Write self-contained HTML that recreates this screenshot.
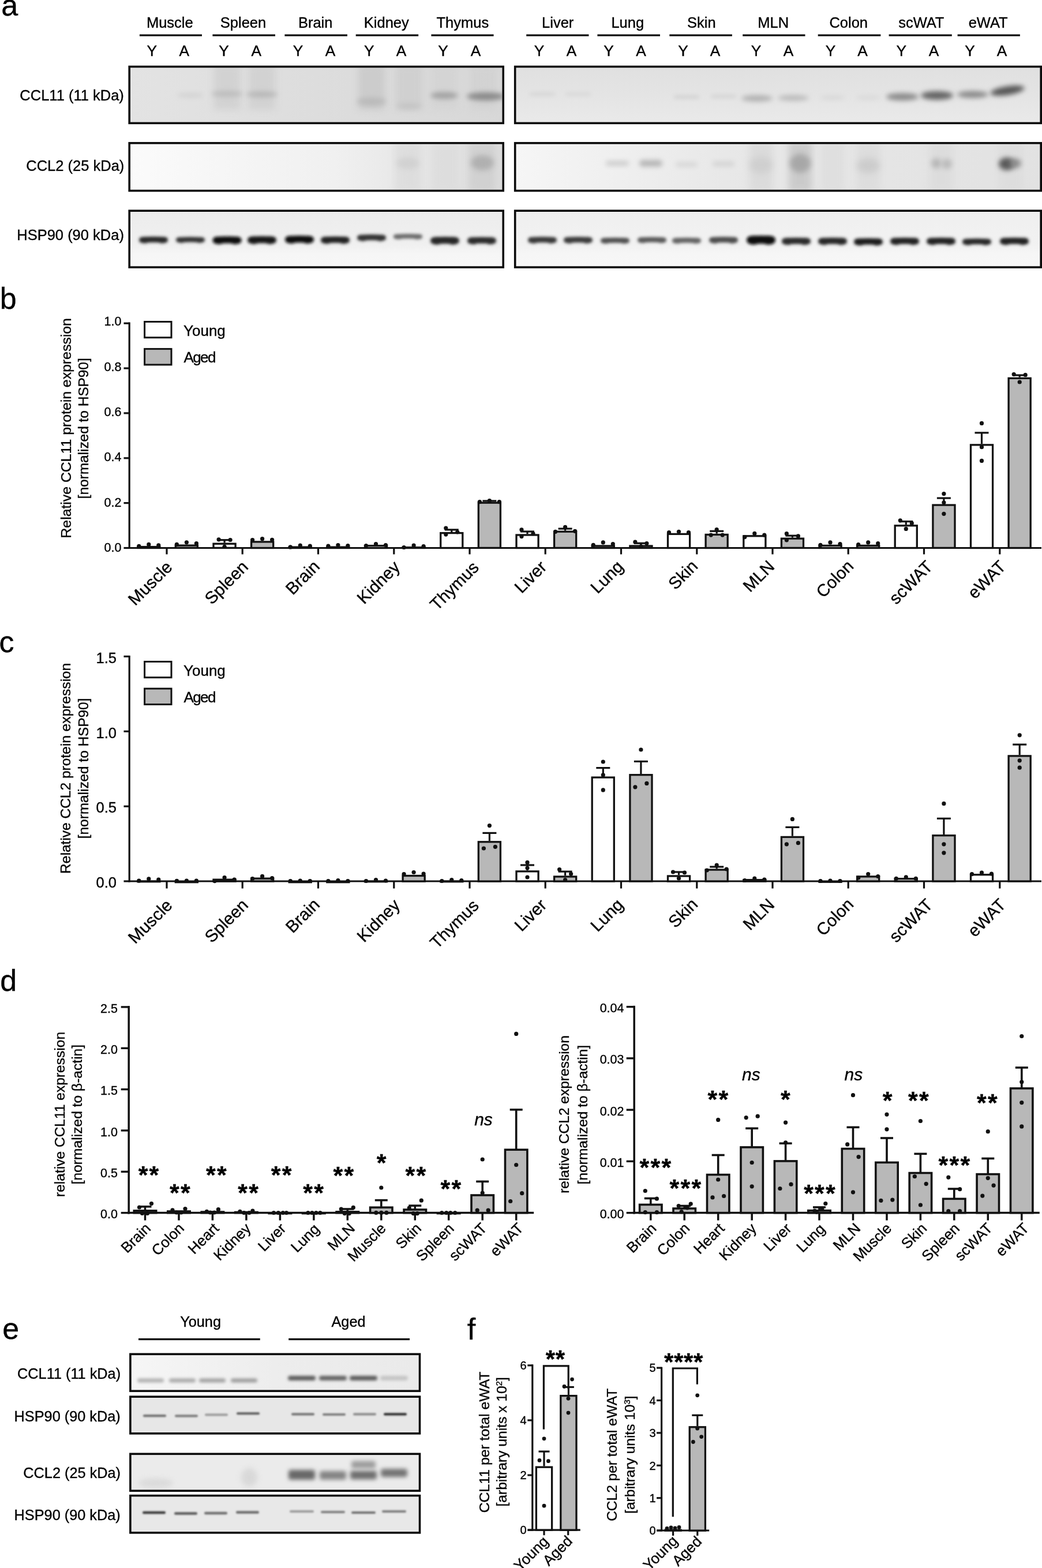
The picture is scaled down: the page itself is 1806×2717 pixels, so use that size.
<!DOCTYPE html>
<html><head><meta charset="utf-8"><title>Figure</title>
<style>html,body{margin:0;padding:0;background:#fff;} svg{display:block;} text{font-family:'Liberation Sans', Arial, Helvetica, sans-serif;stroke:#000;stroke-width:0.35px;}</style>
</head><body>
<svg width="1806" height="2717" viewBox="0 0 1806 2717">
<rect width="1806" height="2717" fill="#fff"/>
<defs>
<filter id="b15" x="-50%" y="-100%" width="200%" height="300%"><feGaussianBlur stdDeviation="1.5"/></filter>
<filter id="b16" x="-50%" y="-100%" width="200%" height="300%"><feGaussianBlur stdDeviation="1.6"/></filter>
<filter id="b25" x="-50%" y="-100%" width="200%" height="300%"><feGaussianBlur stdDeviation="2.5"/></filter>
<filter id="b28" x="-50%" y="-100%" width="200%" height="300%"><feGaussianBlur stdDeviation="2.8"/></filter>
<filter id="b35" x="-50%" y="-100%" width="200%" height="300%"><feGaussianBlur stdDeviation="3.5"/></filter>
<filter id="b36" x="-50%" y="-100%" width="200%" height="300%"><feGaussianBlur stdDeviation="3.6"/></filter>
<filter id="b38" x="-50%" y="-100%" width="200%" height="300%"><feGaussianBlur stdDeviation="3.8"/></filter>
<filter id="b40" x="-50%" y="-100%" width="200%" height="300%"><feGaussianBlur stdDeviation="4"/></filter>
<filter id="b50" x="-50%" y="-100%" width="200%" height="300%"><feGaussianBlur stdDeviation="5"/></filter>
<filter id="b60" x="-50%" y="-100%" width="200%" height="300%"><feGaussianBlur stdDeviation="6"/></filter>
<linearGradient id="gA2" x1="0" x2="1" y1="0" y2="0"><stop offset="0" stop-color="#fbfbfb"/><stop offset="0.55" stop-color="#f0f0f0"/><stop offset="1" stop-color="#dcdcdc"/></linearGradient>
<linearGradient id="gA5" x1="0" x2="1" y1="0" y2="0"><stop offset="0" stop-color="#f6f6f6"/><stop offset="0.4" stop-color="#e8e8e8"/><stop offset="1" stop-color="#e2e2e2"/></linearGradient>
<linearGradient id="gE1" x1="0" x2="1" y1="0" y2="0"><stop offset="0" stop-color="#f6f6f6"/><stop offset="0.5" stop-color="#ededed"/><stop offset="1" stop-color="#eaeaea"/></linearGradient>
<linearGradient id="gA1" x1="0" x2="1" y1="0" y2="0"><stop offset="0" stop-color="#e3e3e3"/><stop offset="0.5" stop-color="#dddddd"/><stop offset="1" stop-color="#d8d8d8"/></linearGradient>
<linearGradient id="gA3" x1="0" x2="0" y1="0" y2="1"><stop offset="0" stop-color="#ececec"/><stop offset="0.6" stop-color="#f0f0f0"/><stop offset="0.75" stop-color="#f6f6f6"/><stop offset="1" stop-color="#f7f7f7"/></linearGradient>
<linearGradient id="gA4" x1="0" x2="0" y1="0" y2="1"><stop offset="0" stop-color="#e0e0e0"/><stop offset="0.5" stop-color="#e4e4e4"/><stop offset="1" stop-color="#eaeaea"/></linearGradient>
<linearGradient id="gA6" x1="0" x2="0" y1="0" y2="1"><stop offset="0" stop-color="#efefef"/><stop offset="0.6" stop-color="#f2f2f2"/><stop offset="0.75" stop-color="#f6f6f6"/><stop offset="1" stop-color="#f7f7f7"/></linearGradient>
</defs>
<text x="16.8" y="27.4" font-size="52" text-anchor="middle" fill="#000">a</text>
<text x="14.3" y="535.2" font-size="52" text-anchor="middle" fill="#000">b</text>
<text x="11.5" y="1129.9" font-size="52" text-anchor="middle" fill="#000">c</text>
<text x="14.7" y="1716.8" font-size="52" text-anchor="middle" fill="#000">d</text>
<text x="18.6" y="2319.9" font-size="52" text-anchor="middle" fill="#000">e</text>
<text x="817.0" y="2320.5" font-size="52" text-anchor="middle" fill="#000">f</text>
<text x="294.3" y="48.3" font-size="25.5" text-anchor="middle" fill="#000">Muscle</text>
<line x1="241.9" y1="61.2" x2="350.0" y2="61.2" stroke="#111" stroke-width="3.3" stroke-linecap="butt"/>
<text x="263.3" y="97.0" font-size="26.3" text-anchor="middle" fill="#000">Y</text>
<text x="319.3" y="97.0" font-size="26.3" text-anchor="middle" fill="#000">A</text>
<text x="421.5" y="48.3" font-size="25.5" text-anchor="middle" fill="#000">Spleen</text>
<line x1="368.4" y1="61.2" x2="477.0" y2="61.2" stroke="#111" stroke-width="3.3" stroke-linecap="butt"/>
<text x="387.9" y="97.0" font-size="26.3" text-anchor="middle" fill="#000">Y</text>
<text x="444.2" y="97.0" font-size="26.3" text-anchor="middle" fill="#000">A</text>
<text x="546.7" y="48.3" font-size="25.5" text-anchor="middle" fill="#000">Brain</text>
<line x1="493.4" y1="61.2" x2="602.0" y2="61.2" stroke="#111" stroke-width="3.3" stroke-linecap="butt"/>
<text x="516.5" y="97.0" font-size="26.3" text-anchor="middle" fill="#000">Y</text>
<text x="572.5" y="97.0" font-size="26.3" text-anchor="middle" fill="#000">A</text>
<text x="669.8" y="48.3" font-size="25.5" text-anchor="middle" fill="#000">Kidney</text>
<line x1="616.7" y1="61.2" x2="725.2" y2="61.2" stroke="#111" stroke-width="3.3" stroke-linecap="butt"/>
<text x="639.7" y="97.0" font-size="26.3" text-anchor="middle" fill="#000">Y</text>
<text x="695.6" y="97.0" font-size="26.3" text-anchor="middle" fill="#000">A</text>
<text x="801.9" y="48.3" font-size="25.5" text-anchor="middle" fill="#000">Thymus</text>
<line x1="747.4" y1="61.2" x2="855.6" y2="61.2" stroke="#111" stroke-width="3.3" stroke-linecap="butt"/>
<text x="768.0" y="97.0" font-size="26.3" text-anchor="middle" fill="#000">Y</text>
<text x="824.4" y="97.0" font-size="26.3" text-anchor="middle" fill="#000">A</text>
<text x="966.7" y="48.3" font-size="25.5" text-anchor="middle" fill="#000">Liver</text>
<line x1="912.2" y1="61.2" x2="1020.5" y2="61.2" stroke="#111" stroke-width="3.3" stroke-linecap="butt"/>
<text x="934.5" y="97.0" font-size="26.3" text-anchor="middle" fill="#000">Y</text>
<text x="990.4" y="97.0" font-size="26.3" text-anchor="middle" fill="#000">A</text>
<text x="1087.8" y="48.3" font-size="25.5" text-anchor="middle" fill="#000">Lung</text>
<line x1="1035.4" y1="61.2" x2="1144.0" y2="61.2" stroke="#111" stroke-width="3.3" stroke-linecap="butt"/>
<text x="1055.0" y="97.0" font-size="26.3" text-anchor="middle" fill="#000">Y</text>
<text x="1111.0" y="97.0" font-size="26.3" text-anchor="middle" fill="#000">A</text>
<text x="1215.8" y="48.3" font-size="25.5" text-anchor="middle" fill="#000">Skin</text>
<line x1="1160.3" y1="61.2" x2="1268.9" y2="61.2" stroke="#111" stroke-width="3.3" stroke-linecap="butt"/>
<text x="1183.9" y="97.0" font-size="26.3" text-anchor="middle" fill="#000">Y</text>
<text x="1239.6" y="97.0" font-size="26.3" text-anchor="middle" fill="#000">A</text>
<text x="1340.2" y="48.3" font-size="25.5" text-anchor="middle" fill="#000">MLN</text>
<line x1="1287.2" y1="61.2" x2="1395.5" y2="61.2" stroke="#111" stroke-width="3.3" stroke-linecap="butt"/>
<text x="1310.5" y="97.0" font-size="26.3" text-anchor="middle" fill="#000">Y</text>
<text x="1366.6" y="97.0" font-size="26.3" text-anchor="middle" fill="#000">A</text>
<text x="1470.7" y="48.3" font-size="25.5" text-anchor="middle" fill="#000">Colon</text>
<line x1="1417.7" y1="61.2" x2="1526.4" y2="61.2" stroke="#111" stroke-width="3.3" stroke-linecap="butt"/>
<text x="1439.5" y="97.0" font-size="26.3" text-anchor="middle" fill="#000">Y</text>
<text x="1494.9" y="97.0" font-size="26.3" text-anchor="middle" fill="#000">A</text>
<text x="1596.8" y="48.3" font-size="25.5" text-anchor="middle" fill="#000">scWAT</text>
<line x1="1540.6" y1="61.2" x2="1649.8" y2="61.2" stroke="#111" stroke-width="3.3" stroke-linecap="butt"/>
<text x="1562.2" y="97.0" font-size="26.3" text-anchor="middle" fill="#000">Y</text>
<text x="1618.5" y="97.0" font-size="26.3" text-anchor="middle" fill="#000">A</text>
<text x="1712.7" y="48.3" font-size="25.5" text-anchor="middle" fill="#000">eWAT</text>
<line x1="1659.6" y1="61.2" x2="1767.9" y2="61.2" stroke="#111" stroke-width="3.3" stroke-linecap="butt"/>
<text x="1680.9" y="97.0" font-size="26.3" text-anchor="middle" fill="#000">Y</text>
<text x="1736.5" y="97.0" font-size="26.3" text-anchor="middle" fill="#000">A</text>
<text x="124.6" y="173.6" font-size="25.5" text-anchor="middle" fill="#000">CCL11 (11 kDa)</text>
<text x="130.3" y="296.4" font-size="25.5" text-anchor="middle" fill="#000">CCL2 (25 kDa)</text>
<text x="122.1" y="415.6" font-size="25.5" text-anchor="middle" fill="#000">HSP90 (90 kDa)</text>
<clipPath id="cA1"><rect x="226.0" y="117.3" width="644.4" height="94.3"/></clipPath>
<g clip-path="url(#cA1)">
<rect x="222.4" y="113.7" width="651.6" height="101.5" fill="#e2e2e2"/>
<rect x="222" y="113" width="652" height="103" fill="url(#gA1)"/>
<rect x="370.6" y="112.0" width="46.0" height="78.0" fill="#cfcfcf" opacity="0.8" filter="url(#b60)"/>
<rect x="431.0" y="112.0" width="46.0" height="78.0" fill="#cfcfcf" opacity="0.8" filter="url(#b60)"/>
<rect x="621.0" y="112.0" width="46.0" height="78.0" fill="#c8c8c8" opacity="0.8" filter="url(#b60)"/>
<rect x="686.0" y="112.0" width="46.0" height="78.0" fill="#cdcdcd" opacity="0.8" filter="url(#b60)"/>
<rect x="747.0" y="112.0" width="46.0" height="78.0" fill="#d2d2d2" opacity="0.7" filter="url(#b60)"/>
<rect x="815.0" y="112.0" width="46.0" height="78.0" fill="#d0d0d0" opacity="0.7" filter="url(#b60)"/>
<ellipse cx="330.0" cy="165.0" rx="24.0" ry="3.5" fill="#d0d0d0" opacity="1.0" filter="url(#b40)"/>
<ellipse cx="393.6" cy="162.5" rx="27.0" ry="5.0" fill="#bcbcbc" opacity="1.0" filter="url(#b40)"/>
<ellipse cx="454.0" cy="163.5" rx="27.0" ry="5.0" fill="#b6b6b6" opacity="1.0" filter="url(#b40)"/>
<ellipse cx="644.0" cy="176.0" rx="25.0" ry="7.0" fill="#bababa" opacity="1.0" filter="url(#b50)"/>
<ellipse cx="709.0" cy="184.0" rx="22.0" ry="5.0" fill="#c2c2c2" opacity="1.0" filter="url(#b50)"/>
<ellipse cx="770.0" cy="165.4" rx="24.0" ry="6.0" fill="#a2a2a2" opacity="1.0" filter="url(#b40)"/>
<ellipse cx="842.0" cy="167.0" rx="33.0" ry="7.0" fill="#8a8a8a" opacity="1.0" filter="url(#b40)"/>
</g>
<rect x="224.2" y="115.5" width="648.0" height="97.9" fill="none" stroke="#0a0a0a" stroke-width="3.6"/>
<clipPath id="cA2"><rect x="226.0" y="249.7" width="644.4" height="79.0"/></clipPath>
<g clip-path="url(#cA2)">
<rect x="222.4" y="246.1" width="651.6" height="86.2" fill="#f4f4f4"/>
<rect x="222" y="246" width="652" height="87" fill="url(#gA2)"/>
<rect x="684.0" y="246.0" width="46.0" height="86.0" fill="#d8d8d8" opacity="0.6" filter="url(#b60)"/>
<rect x="748.0" y="246.0" width="46.0" height="86.0" fill="#d8d8d8" opacity="0.5" filter="url(#b60)"/>
<rect x="812.0" y="246.0" width="46.0" height="86.0" fill="#c8c8c8" opacity="0.6" filter="url(#b60)"/>
<ellipse cx="707.0" cy="283.0" rx="20.0" ry="10.0" fill="#cfcfcf" opacity="0.8" filter="url(#b50)"/>
<ellipse cx="836.0" cy="282.0" rx="20.0" ry="13.0" fill="#a8a8a8" opacity="0.8" filter="url(#b50)"/>
</g>
<rect x="224.2" y="247.9" width="648.0" height="82.6" fill="none" stroke="#0a0a0a" stroke-width="3.6"/>
<clipPath id="cA3"><rect x="226.0" y="367.0" width="644.4" height="94.3"/></clipPath>
<g clip-path="url(#cA3)">
<rect x="222.4" y="363.4" width="651.6" height="101.5" fill="#f1f1f1"/>
<rect x="222" y="363" width="652" height="102" fill="url(#gA3)"/>
<g filter="url(#b28)" opacity="1.0"><path d="M246.0,415.7 Q266.0,414.1 286.0,415.7" stroke="#262626" stroke-width="10.0" stroke-linecap="round" fill="none"/><ellipse cx="251.0" cy="416.0" rx="8.0" ry="5.6" fill="#262626"/><ellipse cx="281.0" cy="416.0" rx="8.0" ry="5.6" fill="#262626"/></g>
<g filter="url(#b28)" opacity="1.0"><path d="M309.5,415.7 Q330.0,414.1 350.5,415.7" stroke="#333333" stroke-width="9.0" stroke-linecap="round" fill="none"/><ellipse cx="314.5" cy="416.0" rx="7.2" ry="5.0" fill="#333333"/><ellipse cx="345.5" cy="416.0" rx="7.2" ry="5.0" fill="#333333"/></g>
<g filter="url(#b28)" opacity="1.0"><path d="M374.6,416.3 Q393.6,414.7 412.6,416.3" stroke="#101010" stroke-width="12.0" stroke-linecap="round" fill="none"/><ellipse cx="379.6" cy="416.6" rx="9.6" ry="6.7" fill="#101010"/><ellipse cx="407.6" cy="416.6" rx="9.6" ry="6.7" fill="#101010"/></g>
<g filter="url(#b28)" opacity="1.0"><path d="M435.0,416.0 Q454.0,414.4 473.0,416.0" stroke="#141414" stroke-width="12.0" stroke-linecap="round" fill="none"/><ellipse cx="440.0" cy="416.3" rx="9.6" ry="6.7" fill="#141414"/><ellipse cx="468.0" cy="416.3" rx="9.6" ry="6.7" fill="#141414"/></g>
<g filter="url(#b28)" opacity="1.0"><path d="M500.0,415.1 Q519.0,413.5 538.0,415.1" stroke="#111111" stroke-width="12.0" stroke-linecap="round" fill="none"/><ellipse cx="505.0" cy="415.4" rx="9.6" ry="6.7" fill="#111111"/><ellipse cx="533.0" cy="415.4" rx="9.6" ry="6.7" fill="#111111"/></g>
<g filter="url(#b28)" opacity="1.0"><path d="M561.5,416.0 Q581.0,414.4 600.5,416.0" stroke="#222222" stroke-width="11.0" stroke-linecap="round" fill="none"/><ellipse cx="566.5" cy="416.3" rx="8.8" ry="6.2" fill="#222222"/><ellipse cx="595.5" cy="416.3" rx="8.8" ry="6.2" fill="#222222"/></g>
<g filter="url(#b28)" opacity="1.0"><path d="M624.0,412.0 Q644.0,410.4 664.0,412.0" stroke="#333333" stroke-width="10.0" stroke-linecap="round" fill="none"/><ellipse cx="629.0" cy="412.3" rx="8.0" ry="5.6" fill="#333333"/><ellipse cx="659.0" cy="412.3" rx="8.0" ry="5.6" fill="#333333"/></g>
<g filter="url(#b28)" opacity="1.0"><path d="M686.0,410.0 Q707.0,408.4 728.0,410.0" stroke="#6a6a6a" stroke-width="8.0" stroke-linecap="round" fill="none"/><ellipse cx="691.0" cy="410.3" rx="6.4" ry="4.5" fill="#6a6a6a"/><ellipse cx="723.0" cy="410.3" rx="6.4" ry="4.5" fill="#6a6a6a"/></g>
<g filter="url(#b28)" opacity="1.0"><path d="M752.0,417.0 Q771.0,415.4 790.0,417.0" stroke="#262626" stroke-width="12.0" stroke-linecap="round" fill="none"/><ellipse cx="757.0" cy="417.3" rx="9.6" ry="6.7" fill="#262626"/><ellipse cx="785.0" cy="417.3" rx="9.6" ry="6.7" fill="#262626"/></g>
<g filter="url(#b28)" opacity="1.0"><path d="M815.5,417.0 Q835.0,415.4 854.5,417.0" stroke="#2c2c2c" stroke-width="11.0" stroke-linecap="round" fill="none"/><ellipse cx="820.5" cy="417.3" rx="8.8" ry="6.2" fill="#2c2c2c"/><ellipse cx="849.5" cy="417.3" rx="8.8" ry="6.2" fill="#2c2c2c"/></g>
</g>
<rect x="224.2" y="365.2" width="648.0" height="97.9" fill="none" stroke="#0a0a0a" stroke-width="3.6"/>
<clipPath id="cA4"><rect x="894.5" y="117.3" width="907.9" height="94.3"/></clipPath>
<g clip-path="url(#cA4)">
<rect x="890.9" y="113.7" width="915.1" height="101.5" fill="#e7e7e7"/>
<rect x="890" y="113" width="916" height="103" fill="url(#gA4)"/>
<rect x="918.0" y="160.0" width="44.0" height="6.0" rx="3.0" fill="#d6d6d6" opacity="1.0" filter="url(#b35)"/>
<rect x="980.0" y="160.0" width="44.0" height="6.0" rx="3.0" fill="#d8d8d8" opacity="1.0" filter="url(#b35)"/>
<rect x="1168.0" y="165.0" width="44.0" height="6.0" rx="3.0" fill="#d2d2d2" opacity="1.0" filter="url(#b35)"/>
<rect x="1232.0" y="164.0" width="44.0" height="6.0" rx="3.0" fill="#d4d4d4" opacity="1.0" filter="url(#b35)"/>
<ellipse cx="1312.0" cy="170.4" rx="27.0" ry="5.5" fill="#b0b0b0" opacity="1.0" filter="url(#b40)"/>
<ellipse cx="1375.0" cy="169.7" rx="27.0" ry="5.0" fill="#bababa" opacity="1.0" filter="url(#b40)"/>
<ellipse cx="1443.0" cy="169.0" rx="22.0" ry="3.5" fill="#d6d6d6" opacity="1.0" filter="url(#b40)"/>
<ellipse cx="1505.0" cy="169.0" rx="22.0" ry="3.5" fill="#d8d8d8" opacity="1.0" filter="url(#b40)"/>
<ellipse cx="1564.0" cy="167.7" rx="28.0" ry="6.5" fill="#8a8a8a" opacity="1.0" filter="url(#b40)"/>
<ellipse cx="1624.0" cy="165.4" rx="28.0" ry="7.5" fill="#646464" opacity="1.0" filter="url(#b40)"/>
<ellipse cx="1686.0" cy="163.7" rx="27.0" ry="6.0" fill="#888888" opacity="1.0" filter="url(#b40)"/>
<g transform="rotate(-9 1746 157)"><ellipse cx="1746.0" cy="157.0" rx="30.0" ry="7.5" fill="#555555" opacity="1.0" filter="url(#b40)"/></g>
</g>
<rect x="892.7" y="115.5" width="911.5" height="97.9" fill="none" stroke="#0a0a0a" stroke-width="3.6"/>
<clipPath id="cA5"><rect x="894.5" y="249.7" width="907.9" height="79.0"/></clipPath>
<g clip-path="url(#cA5)">
<rect x="890.9" y="246.1" width="915.1" height="86.2" fill="#ececec"/>
<rect x="890" y="246" width="916" height="87" fill="url(#gA5)"/>
<rect x="1299.0" y="246.0" width="40.0" height="86.0" fill="#d6d6d6" opacity="0.7" filter="url(#b60)"/>
<rect x="1367.0" y="246.0" width="40.0" height="86.0" fill="#c4c4c4" opacity="0.8" filter="url(#b60)"/>
<rect x="1423.0" y="246.0" width="40.0" height="86.0" fill="#dadada" opacity="0.6" filter="url(#b60)"/>
<rect x="1485.0" y="246.0" width="40.0" height="86.0" fill="#d8d8d8" opacity="0.6" filter="url(#b60)"/>
<rect x="1611.0" y="246.0" width="40.0" height="86.0" fill="#d8d8d8" opacity="0.6" filter="url(#b60)"/>
<rect x="1732.0" y="246.0" width="40.0" height="86.0" fill="#d8d8d8" opacity="0.5" filter="url(#b60)"/>
<rect x="1050.0" y="279.0" width="40.0" height="8.0" rx="4.0" fill="#cacaca" opacity="1.0" filter="url(#b40)"/>
<rect x="1108.0" y="277.5" width="40.0" height="11.0" rx="5.5" fill="#b4b4b4" opacity="1.0" filter="url(#b40)"/>
<rect x="1171.0" y="281.0" width="38.0" height="8.0" rx="4.0" fill="#d6d6d6" opacity="1.0" filter="url(#b40)"/>
<rect x="1235.0" y="280.0" width="38.0" height="8.0" rx="4.0" fill="#d2d2d2" opacity="1.0" filter="url(#b40)"/>
<ellipse cx="1387.0" cy="283.0" rx="18.0" ry="16.0" fill="#a4a4a4" opacity="0.9" filter="url(#b50)"/>
<ellipse cx="1319.0" cy="286.0" rx="20.0" ry="14.0" fill="#cccccc" opacity="0.8" filter="url(#b60)"/>
<ellipse cx="1505.0" cy="287.0" rx="20.0" ry="13.0" fill="#c8c8c8" opacity="0.8" filter="url(#b60)"/>
<ellipse cx="1623.0" cy="283.0" rx="9.0" ry="9.0" fill="#b4b4b4" opacity="0.9" filter="url(#b40)"/>
<ellipse cx="1641.0" cy="284.0" rx="9.0" ry="9.0" fill="#b8b8b8" opacity="0.9" filter="url(#b40)"/>
<ellipse cx="1745.0" cy="284.0" rx="14.0" ry="11.0" fill="#5a5a5a" opacity="1" filter="url(#b40)"/>
<ellipse cx="1760.0" cy="283.0" rx="10.0" ry="8.0" fill="#888888" opacity="0.9" filter="url(#b40)"/>
</g>
<rect x="892.7" y="247.9" width="911.5" height="82.6" fill="none" stroke="#0a0a0a" stroke-width="3.6"/>
<clipPath id="cA6"><rect x="894.5" y="367.0" width="907.9" height="94.3"/></clipPath>
<g clip-path="url(#cA6)">
<rect x="890.9" y="363.4" width="915.1" height="101.5" fill="#f3f3f3"/>
<rect x="890" y="363" width="916" height="102" fill="url(#gA6)"/>
<g filter="url(#b28)" opacity="1.0"><path d="M920.0,416.0 Q940.0,414.4 960.0,416.0" stroke="#383838" stroke-width="10.0" stroke-linecap="round" fill="none"/><ellipse cx="925.0" cy="416.3" rx="8.0" ry="5.6" fill="#383838"/><ellipse cx="955.0" cy="416.3" rx="8.0" ry="5.6" fill="#383838"/></g>
<g filter="url(#b28)" opacity="1.0"><path d="M982.0,416.0 Q1002.0,414.4 1022.0,416.0" stroke="#3a3a3a" stroke-width="10.0" stroke-linecap="round" fill="none"/><ellipse cx="987.0" cy="416.3" rx="8.0" ry="5.6" fill="#3a3a3a"/><ellipse cx="1017.0" cy="416.3" rx="8.0" ry="5.6" fill="#3a3a3a"/></g>
<g filter="url(#b28)" opacity="1.0"><path d="M1045.5,417.0 Q1066.0,415.4 1086.5,417.0" stroke="#505050" stroke-width="9.0" stroke-linecap="round" fill="none"/><ellipse cx="1050.5" cy="417.3" rx="7.2" ry="5.0" fill="#505050"/><ellipse cx="1081.5" cy="417.3" rx="7.2" ry="5.0" fill="#505050"/></g>
<g filter="url(#b28)" opacity="1.0"><path d="M1109.5,416.0 Q1130.0,414.4 1150.5,416.0" stroke="#585858" stroke-width="9.0" stroke-linecap="round" fill="none"/><ellipse cx="1114.5" cy="416.3" rx="7.2" ry="5.0" fill="#585858"/><ellipse cx="1145.5" cy="416.3" rx="7.2" ry="5.0" fill="#585858"/></g>
<g filter="url(#b28)" opacity="1.0"><path d="M1169.5,417.0 Q1190.0,415.4 1210.5,417.0" stroke="#646464" stroke-width="9.0" stroke-linecap="round" fill="none"/><ellipse cx="1174.5" cy="417.3" rx="7.2" ry="5.0" fill="#646464"/><ellipse cx="1205.5" cy="417.3" rx="7.2" ry="5.0" fill="#646464"/></g>
<g filter="url(#b28)" opacity="1.0"><path d="M1234.0,416.0 Q1254.0,414.4 1274.0,416.0" stroke="#4e4e4e" stroke-width="10.0" stroke-linecap="round" fill="none"/><ellipse cx="1239.0" cy="416.3" rx="8.0" ry="5.6" fill="#4e4e4e"/><ellipse cx="1269.0" cy="416.3" rx="8.0" ry="5.6" fill="#4e4e4e"/></g>
<g filter="url(#b28)" opacity="1.0"><path d="M1301.0,416.0 Q1319.0,414.4 1337.0,416.0" stroke="#0c0c0c" stroke-width="14.0" stroke-linecap="round" fill="none"/><ellipse cx="1306.0" cy="416.3" rx="11.2" ry="7.8" fill="#0c0c0c"/><ellipse cx="1332.0" cy="416.3" rx="11.2" ry="7.8" fill="#0c0c0c"/></g>
<g filter="url(#b28)" opacity="1.0"><path d="M1360.5,418.0 Q1380.0,416.4 1399.5,418.0" stroke="#2a2a2a" stroke-width="11.0" stroke-linecap="round" fill="none"/><ellipse cx="1365.5" cy="418.3" rx="8.8" ry="6.2" fill="#2a2a2a"/><ellipse cx="1394.5" cy="418.3" rx="8.8" ry="6.2" fill="#2a2a2a"/></g>
<g filter="url(#b28)" opacity="1.0"><path d="M1423.5,418.0 Q1443.0,416.4 1462.5,418.0" stroke="#262626" stroke-width="11.0" stroke-linecap="round" fill="none"/><ellipse cx="1428.5" cy="418.3" rx="8.8" ry="6.2" fill="#262626"/><ellipse cx="1457.5" cy="418.3" rx="8.8" ry="6.2" fill="#262626"/></g>
<g filter="url(#b28)" opacity="1.0"><path d="M1485.5,419.0 Q1505.0,417.4 1524.5,419.0" stroke="#1e1e1e" stroke-width="11.0" stroke-linecap="round" fill="none"/><ellipse cx="1490.5" cy="419.3" rx="8.8" ry="6.2" fill="#1e1e1e"/><ellipse cx="1519.5" cy="419.3" rx="8.8" ry="6.2" fill="#1e1e1e"/></g>
<g filter="url(#b28)" opacity="1.0"><path d="M1548.5,418.0 Q1568.0,416.4 1587.5,418.0" stroke="#202020" stroke-width="11.0" stroke-linecap="round" fill="none"/><ellipse cx="1553.5" cy="418.3" rx="8.8" ry="6.2" fill="#202020"/><ellipse cx="1582.5" cy="418.3" rx="8.8" ry="6.2" fill="#202020"/></g>
<g filter="url(#b28)" opacity="1.0"><path d="M1611.5,418.0 Q1631.0,416.4 1650.5,418.0" stroke="#242424" stroke-width="11.0" stroke-linecap="round" fill="none"/><ellipse cx="1616.5" cy="418.3" rx="8.8" ry="6.2" fill="#242424"/><ellipse cx="1645.5" cy="418.3" rx="8.8" ry="6.2" fill="#242424"/></g>
<g filter="url(#b28)" opacity="1.0"><path d="M1673.0,419.0 Q1693.0,417.4 1713.0,419.0" stroke="#282828" stroke-width="10.0" stroke-linecap="round" fill="none"/><ellipse cx="1678.0" cy="419.3" rx="8.0" ry="5.6" fill="#282828"/><ellipse cx="1708.0" cy="419.3" rx="8.0" ry="5.6" fill="#282828"/></g>
<g filter="url(#b28)" opacity="1.0"><path d="M1738.5,418.0 Q1758.0,416.4 1777.5,418.0" stroke="#202020" stroke-width="11.0" stroke-linecap="round" fill="none"/><ellipse cx="1743.5" cy="418.3" rx="8.8" ry="6.2" fill="#202020"/><ellipse cx="1772.5" cy="418.3" rx="8.8" ry="6.2" fill="#202020"/></g>
</g>
<rect x="892.7" y="365.2" width="911.5" height="97.9" fill="none" stroke="#0a0a0a" stroke-width="3.6"/>
<line x1="224.2" y1="558.6" x2="224.2" y2="951.1" stroke="#111" stroke-width="3.2" stroke-linecap="butt"/>
<line x1="222.6" y1="949.5" x2="1805.0" y2="949.5" stroke="#111" stroke-width="3.2" stroke-linecap="butt"/>
<line x1="214.5" y1="949.5" x2="224.2" y2="949.5" stroke="#111" stroke-width="3.2" stroke-linecap="butt"/>
<text x="210.5" y="956.0" font-size="21.5" text-anchor="end" fill="#000">0.0</text>
<line x1="214.5" y1="871.6" x2="224.2" y2="871.6" stroke="#111" stroke-width="3.2" stroke-linecap="butt"/>
<text x="210.5" y="877.7" font-size="21.5" text-anchor="end" fill="#000">0.2</text>
<line x1="214.5" y1="793.8" x2="224.2" y2="793.8" stroke="#111" stroke-width="3.2" stroke-linecap="butt"/>
<text x="210.5" y="799.3" font-size="21.5" text-anchor="end" fill="#000">0.4</text>
<line x1="214.5" y1="715.9" x2="224.2" y2="715.9" stroke="#111" stroke-width="3.2" stroke-linecap="butt"/>
<text x="210.5" y="720.9" font-size="21.5" text-anchor="end" fill="#000">0.6</text>
<line x1="214.5" y1="638.1" x2="224.2" y2="638.1" stroke="#111" stroke-width="3.2" stroke-linecap="butt"/>
<text x="210.5" y="642.5" font-size="21.5" text-anchor="end" fill="#000">0.8</text>
<line x1="214.5" y1="560.2" x2="224.2" y2="560.2" stroke="#111" stroke-width="3.2" stroke-linecap="butt"/>
<text x="210.5" y="564.1" font-size="21.5" text-anchor="end" fill="#000">1.0</text>
<line x1="289.0" y1="949.5" x2="289.0" y2="960.5" stroke="#111" stroke-width="3.2" stroke-linecap="butt"/>
<line x1="420.2" y1="949.5" x2="420.2" y2="960.5" stroke="#111" stroke-width="3.2" stroke-linecap="butt"/>
<line x1="551.5" y1="949.5" x2="551.5" y2="960.5" stroke="#111" stroke-width="3.2" stroke-linecap="butt"/>
<line x1="682.8" y1="949.5" x2="682.8" y2="960.5" stroke="#111" stroke-width="3.2" stroke-linecap="butt"/>
<line x1="814.0" y1="949.5" x2="814.0" y2="960.5" stroke="#111" stroke-width="3.2" stroke-linecap="butt"/>
<line x1="945.2" y1="949.5" x2="945.2" y2="960.5" stroke="#111" stroke-width="3.2" stroke-linecap="butt"/>
<line x1="1076.5" y1="949.5" x2="1076.5" y2="960.5" stroke="#111" stroke-width="3.2" stroke-linecap="butt"/>
<line x1="1207.8" y1="949.5" x2="1207.8" y2="960.5" stroke="#111" stroke-width="3.2" stroke-linecap="butt"/>
<line x1="1339.0" y1="949.5" x2="1339.0" y2="960.5" stroke="#111" stroke-width="3.2" stroke-linecap="butt"/>
<line x1="1470.2" y1="949.5" x2="1470.2" y2="960.5" stroke="#111" stroke-width="3.2" stroke-linecap="butt"/>
<line x1="1601.5" y1="949.5" x2="1601.5" y2="960.5" stroke="#111" stroke-width="3.2" stroke-linecap="butt"/>
<line x1="1732.8" y1="949.5" x2="1732.8" y2="960.5" stroke="#111" stroke-width="3.2" stroke-linecap="butt"/>
<text x="122.8" y="741.9" font-size="24.8" text-anchor="middle" transform="rotate(-90 122.8 741.9)" fill="#000">Relative CCL11 protein expression</text>
<text x="153.2" y="742.3" font-size="24.4" text-anchor="middle" transform="rotate(-90 153.2 742.3)" fill="#000">[normalized to HSP90]</text>
<rect x="250.6" y="557.5" width="46.4" height="27.4" fill="white" stroke="#111" stroke-width="3.0"/>
<rect x="250.6" y="604.6" width="46.4" height="27.4" fill="#b8b8b8" stroke="#111" stroke-width="3.0"/>
<text x="318.0" y="581.5" font-size="26" text-anchor="start" fill="#000">Young</text>
<text x="318.5" y="628.4" font-size="26" text-anchor="start" fill="#000" letter-spacing="-1.6">Aged</text>
<rect x="238.8" y="947.6" width="38.1" height="1.9" fill="white" stroke="#111" stroke-width="3.3"/>
<circle cx="240.8" cy="946.4" r="3.6" fill="#111"/>
<circle cx="257.8" cy="943.4" r="3.6" fill="#111"/>
<circle cx="274.8" cy="944.8" r="3.6" fill="#111"/>
<rect x="304.3" y="945.1" width="38.1" height="4.3" fill="#b8b8b8" stroke="#111" stroke-width="3.3"/>
<circle cx="306.4" cy="943.4" r="3.6" fill="#111"/>
<circle cx="323.4" cy="939.8" r="3.6" fill="#111"/>
<circle cx="340.4" cy="941.5" r="3.6" fill="#111"/>
<rect x="370.0" y="942.2" width="38.1" height="7.2" fill="white" stroke="#111" stroke-width="3.3"/>
<line x1="389.1" y1="940.6" x2="389.1" y2="935.7" stroke="#111" stroke-width="3.2" stroke-linecap="butt"/>
<line x1="377.1" y1="935.7" x2="401.1" y2="935.7" stroke="#111" stroke-width="3.2" stroke-linecap="butt"/>
<circle cx="379.1" cy="934.8" r="3.6" fill="#111"/>
<circle cx="399.1" cy="935.5" r="3.6" fill="#111"/>
<circle cx="389.1" cy="947.3" r="3.6" fill="#111"/>
<rect x="435.6" y="938.9" width="38.1" height="10.6" fill="#b8b8b8" stroke="#111" stroke-width="3.3"/>
<circle cx="437.6" cy="935.7" r="3.6" fill="#111"/>
<circle cx="454.6" cy="933.7" r="3.6" fill="#111"/>
<circle cx="471.6" cy="935.3" r="3.6" fill="#111"/>
<rect x="501.2" y="948.1" width="38.1" height="1.4" fill="white" stroke="#111" stroke-width="3.3"/>
<circle cx="503.3" cy="947.9" r="3.6" fill="#111"/>
<circle cx="520.3" cy="945.0" r="3.6" fill="#111"/>
<circle cx="537.3" cy="946.0" r="3.6" fill="#111"/>
<rect x="566.8" y="948.1" width="38.1" height="1.4" fill="#b8b8b8" stroke="#111" stroke-width="3.3"/>
<circle cx="568.9" cy="946.0" r="3.6" fill="#111"/>
<circle cx="585.9" cy="944.5" r="3.6" fill="#111"/>
<circle cx="602.9" cy="945.5" r="3.6" fill="#111"/>
<rect x="632.5" y="945.6" width="38.1" height="3.9" fill="white" stroke="#111" stroke-width="3.3"/>
<circle cx="634.5" cy="945.5" r="3.6" fill="#111"/>
<circle cx="651.5" cy="942.5" r="3.6" fill="#111"/>
<circle cx="668.5" cy="944.5" r="3.6" fill="#111"/>
<rect x="698.1" y="948.6" width="38.1" height="0.9" fill="#b8b8b8" stroke="#111" stroke-width="3.3"/>
<circle cx="700.1" cy="948.5" r="3.6" fill="#111"/>
<circle cx="717.1" cy="945.0" r="3.6" fill="#111"/>
<circle cx="734.1" cy="946.5" r="3.6" fill="#111"/>
<rect x="763.7" y="923.6" width="38.1" height="25.9" fill="white" stroke="#111" stroke-width="3.3"/>
<line x1="782.8" y1="922.0" x2="782.8" y2="917.9" stroke="#111" stroke-width="3.2" stroke-linecap="butt"/>
<line x1="770.8" y1="917.9" x2="794.8" y2="917.9" stroke="#111" stroke-width="3.2" stroke-linecap="butt"/>
<circle cx="772.8" cy="915.1" r="3.6" fill="#111"/>
<circle cx="772.8" cy="926.1" r="3.6" fill="#111"/>
<circle cx="792.8" cy="922.0" r="3.6" fill="#111"/>
<rect x="829.3" y="871.2" width="38.1" height="78.2" fill="#b8b8b8" stroke="#111" stroke-width="3.3"/>
<line x1="848.4" y1="869.6" x2="848.4" y2="868.0" stroke="#111" stroke-width="3.2" stroke-linecap="butt"/>
<line x1="836.4" y1="868.0" x2="860.4" y2="868.0" stroke="#111" stroke-width="3.2" stroke-linecap="butt"/>
<circle cx="831.4" cy="869.6" r="3.6" fill="#111"/>
<circle cx="848.4" cy="867.6" r="3.6" fill="#111"/>
<circle cx="865.4" cy="869.6" r="3.6" fill="#111"/>
<rect x="895.0" y="927.0" width="38.1" height="22.5" fill="white" stroke="#111" stroke-width="3.3"/>
<line x1="914.0" y1="925.4" x2="914.0" y2="921.0" stroke="#111" stroke-width="3.2" stroke-linecap="butt"/>
<line x1="902.0" y1="921.0" x2="926.0" y2="921.0" stroke="#111" stroke-width="3.2" stroke-linecap="butt"/>
<circle cx="904.0" cy="917.9" r="3.6" fill="#111"/>
<circle cx="904.0" cy="929.6" r="3.6" fill="#111"/>
<circle cx="924.0" cy="924.7" r="3.6" fill="#111"/>
<rect x="960.6" y="921.2" width="38.1" height="28.2" fill="#b8b8b8" stroke="#111" stroke-width="3.3"/>
<line x1="979.6" y1="919.6" x2="979.6" y2="916.1" stroke="#111" stroke-width="3.2" stroke-linecap="butt"/>
<line x1="967.6" y1="916.1" x2="991.6" y2="916.1" stroke="#111" stroke-width="3.2" stroke-linecap="butt"/>
<circle cx="979.6" cy="913.4" r="3.6" fill="#111"/>
<circle cx="962.6" cy="921.3" r="3.6" fill="#111"/>
<circle cx="996.6" cy="920.3" r="3.6" fill="#111"/>
<rect x="1026.2" y="946.0" width="38.1" height="3.5" fill="white" stroke="#111" stroke-width="3.3"/>
<circle cx="1028.3" cy="944.4" r="3.6" fill="#111"/>
<circle cx="1045.3" cy="939.9" r="3.6" fill="#111"/>
<circle cx="1062.3" cy="942.6" r="3.6" fill="#111"/>
<rect x="1091.9" y="946.0" width="38.1" height="3.5" fill="#b8b8b8" stroke="#111" stroke-width="3.3"/>
<line x1="1110.9" y1="944.4" x2="1110.9" y2="941.3" stroke="#111" stroke-width="3.2" stroke-linecap="butt"/>
<line x1="1098.9" y1="941.3" x2="1122.9" y2="941.3" stroke="#111" stroke-width="3.2" stroke-linecap="butt"/>
<circle cx="1100.9" cy="939.2" r="3.6" fill="#111"/>
<circle cx="1120.9" cy="941.6" r="3.6" fill="#111"/>
<circle cx="1110.9" cy="946.8" r="3.6" fill="#111"/>
<rect x="1157.5" y="925.4" width="38.1" height="24.1" fill="white" stroke="#111" stroke-width="3.3"/>
<circle cx="1159.5" cy="922.7" r="3.6" fill="#111"/>
<circle cx="1176.5" cy="921.3" r="3.6" fill="#111"/>
<circle cx="1193.5" cy="922.7" r="3.6" fill="#111"/>
<rect x="1223.1" y="926.4" width="38.1" height="23.1" fill="#b8b8b8" stroke="#111" stroke-width="3.3"/>
<line x1="1242.2" y1="924.7" x2="1242.2" y2="920.3" stroke="#111" stroke-width="3.2" stroke-linecap="butt"/>
<line x1="1230.2" y1="920.3" x2="1254.2" y2="920.3" stroke="#111" stroke-width="3.2" stroke-linecap="butt"/>
<circle cx="1242.2" cy="917.5" r="3.6" fill="#111"/>
<circle cx="1232.2" cy="927.1" r="3.6" fill="#111"/>
<circle cx="1252.2" cy="927.1" r="3.6" fill="#111"/>
<rect x="1288.8" y="928.8" width="38.1" height="20.7" fill="white" stroke="#111" stroke-width="3.3"/>
<circle cx="1290.8" cy="930.6" r="3.6" fill="#111"/>
<circle cx="1307.8" cy="924.4" r="3.6" fill="#111"/>
<circle cx="1324.8" cy="927.1" r="3.6" fill="#111"/>
<rect x="1354.4" y="933.2" width="38.1" height="16.2" fill="#b8b8b8" stroke="#111" stroke-width="3.3"/>
<line x1="1373.4" y1="931.6" x2="1373.4" y2="928.2" stroke="#111" stroke-width="3.2" stroke-linecap="butt"/>
<line x1="1361.4" y1="928.2" x2="1385.4" y2="928.2" stroke="#111" stroke-width="3.2" stroke-linecap="butt"/>
<circle cx="1363.4" cy="924.7" r="3.6" fill="#111"/>
<circle cx="1363.4" cy="935.8" r="3.6" fill="#111"/>
<circle cx="1383.4" cy="928.9" r="3.6" fill="#111"/>
<rect x="1420.0" y="945.4" width="38.1" height="4.1" fill="white" stroke="#111" stroke-width="3.3"/>
<circle cx="1422.0" cy="944.4" r="3.6" fill="#111"/>
<circle cx="1439.0" cy="939.9" r="3.6" fill="#111"/>
<circle cx="1456.0" cy="942.6" r="3.6" fill="#111"/>
<rect x="1485.6" y="945.4" width="38.1" height="4.1" fill="#b8b8b8" stroke="#111" stroke-width="3.3"/>
<circle cx="1487.7" cy="943.7" r="3.6" fill="#111"/>
<circle cx="1504.7" cy="939.9" r="3.6" fill="#111"/>
<circle cx="1521.7" cy="941.6" r="3.6" fill="#111"/>
<rect x="1551.2" y="910.8" width="38.1" height="38.7" fill="white" stroke="#111" stroke-width="3.3"/>
<line x1="1570.3" y1="909.1" x2="1570.3" y2="903.6" stroke="#111" stroke-width="3.2" stroke-linecap="butt"/>
<line x1="1558.3" y1="903.6" x2="1582.3" y2="903.6" stroke="#111" stroke-width="3.2" stroke-linecap="butt"/>
<circle cx="1560.3" cy="901.8" r="3.6" fill="#111"/>
<circle cx="1580.3" cy="906.7" r="3.6" fill="#111"/>
<circle cx="1570.3" cy="916.4" r="3.6" fill="#111"/>
<rect x="1616.9" y="875.1" width="38.1" height="74.3" fill="#b8b8b8" stroke="#111" stroke-width="3.3"/>
<line x1="1635.9" y1="873.5" x2="1635.9" y2="863.1" stroke="#111" stroke-width="3.2" stroke-linecap="butt"/>
<line x1="1623.9" y1="863.1" x2="1647.9" y2="863.1" stroke="#111" stroke-width="3.2" stroke-linecap="butt"/>
<circle cx="1635.9" cy="855.6" r="3.6" fill="#111"/>
<circle cx="1635.9" cy="870.8" r="3.6" fill="#111"/>
<circle cx="1635.9" cy="890.3" r="3.6" fill="#111"/>
<rect x="1682.5" y="770.9" width="38.1" height="178.6" fill="white" stroke="#111" stroke-width="3.3"/>
<line x1="1701.5" y1="769.2" x2="1701.5" y2="749.9" stroke="#111" stroke-width="3.2" stroke-linecap="butt"/>
<line x1="1689.5" y1="749.9" x2="1713.5" y2="749.9" stroke="#111" stroke-width="3.2" stroke-linecap="butt"/>
<circle cx="1701.5" cy="733.4" r="3.6" fill="#111"/>
<circle cx="1701.5" cy="774.7" r="3.6" fill="#111"/>
<circle cx="1701.5" cy="798.4" r="3.6" fill="#111"/>
<rect x="1748.1" y="655.4" width="38.1" height="294.1" fill="#b8b8b8" stroke="#111" stroke-width="3.3"/>
<line x1="1767.2" y1="653.7" x2="1767.2" y2="650.1" stroke="#111" stroke-width="3.2" stroke-linecap="butt"/>
<line x1="1755.2" y1="650.1" x2="1779.2" y2="650.1" stroke="#111" stroke-width="3.2" stroke-linecap="butt"/>
<circle cx="1757.2" cy="648.6" r="3.6" fill="#111"/>
<circle cx="1777.2" cy="649.7" r="3.6" fill="#111"/>
<circle cx="1767.2" cy="662.0" r="3.6" fill="#111"/>
<text x="267.4" y="1017.6" font-size="29.5" text-anchor="middle" transform="rotate(-45 267.4 1017.6)" fill="#000">Muscle</text>
<text x="399.4" y="1016.6" font-size="29.5" text-anchor="middle" transform="rotate(-45 399.4 1016.6)" fill="#000">Spleen</text>
<text x="531.5" y="1007.8" font-size="29.5" text-anchor="middle" transform="rotate(-45 531.5 1007.8)" fill="#000">Brain</text>
<text x="663.0" y="1016.3" font-size="29.5" text-anchor="middle" transform="rotate(-45 663.0 1016.3)" fill="#000">Kidney</text>
<text x="794.6" y="1022.1" font-size="29.5" text-anchor="middle" transform="rotate(-45 794.6 1022.1)" fill="#000">Thymus</text>
<text x="926.5" y="1006.9" font-size="29.5" text-anchor="middle" transform="rotate(-45 926.5 1006.9)" fill="#000">Liver</text>
<text x="1059.0" y="1006.8" font-size="29.5" text-anchor="middle" transform="rotate(-45 1059.0 1006.8)" fill="#000">Lung</text>
<text x="1190.8" y="1003.2" font-size="29.5" text-anchor="middle" transform="rotate(-45 1190.8 1003.2)" fill="#000">Skin</text>
<text x="1322.0" y="1005.4" font-size="29.5" text-anchor="middle" transform="rotate(-45 1322.0 1005.4)" fill="#000">MLN</text>
<text x="1453.9" y="1010.2" font-size="29.5" text-anchor="middle" transform="rotate(-45 1453.9 1010.2)" fill="#000">Colon</text>
<text x="1585.7" y="1016.3" font-size="29.5" text-anchor="middle" transform="rotate(-45 1585.7 1016.3)" fill="#000">scWAT</text>
<text x="1717.2" y="1011.4" font-size="29.5" text-anchor="middle" transform="rotate(-45 1717.2 1011.4)" fill="#000">eWAT</text>
<line x1="224.2" y1="1135.9" x2="224.2" y2="1528.6" stroke="#111" stroke-width="3.2" stroke-linecap="butt"/>
<line x1="222.6" y1="1527.0" x2="1805.0" y2="1527.0" stroke="#111" stroke-width="3.2" stroke-linecap="butt"/>
<line x1="214.5" y1="1527.0" x2="224.2" y2="1527.0" stroke="#111" stroke-width="3.2" stroke-linecap="butt"/>
<text x="202.0" y="1538.2" font-size="25.5" text-anchor="end" fill="#000">0.0</text>
<line x1="214.5" y1="1397.2" x2="224.2" y2="1397.2" stroke="#111" stroke-width="3.2" stroke-linecap="butt"/>
<text x="202.0" y="1408.3" font-size="25.5" text-anchor="end" fill="#000">0.5</text>
<line x1="214.5" y1="1267.3" x2="224.2" y2="1267.3" stroke="#111" stroke-width="3.2" stroke-linecap="butt"/>
<text x="202.0" y="1278.5" font-size="25.5" text-anchor="end" fill="#000">1.0</text>
<line x1="214.5" y1="1137.5" x2="224.2" y2="1137.5" stroke="#111" stroke-width="3.2" stroke-linecap="butt"/>
<text x="202.0" y="1148.6" font-size="25.5" text-anchor="end" fill="#000">1.5</text>
<line x1="289.0" y1="1527.0" x2="289.0" y2="1539.5" stroke="#111" stroke-width="3.2" stroke-linecap="butt"/>
<line x1="420.2" y1="1527.0" x2="420.2" y2="1539.5" stroke="#111" stroke-width="3.2" stroke-linecap="butt"/>
<line x1="551.5" y1="1527.0" x2="551.5" y2="1539.5" stroke="#111" stroke-width="3.2" stroke-linecap="butt"/>
<line x1="682.8" y1="1527.0" x2="682.8" y2="1539.5" stroke="#111" stroke-width="3.2" stroke-linecap="butt"/>
<line x1="814.0" y1="1527.0" x2="814.0" y2="1539.5" stroke="#111" stroke-width="3.2" stroke-linecap="butt"/>
<line x1="945.2" y1="1527.0" x2="945.2" y2="1539.5" stroke="#111" stroke-width="3.2" stroke-linecap="butt"/>
<line x1="1076.5" y1="1527.0" x2="1076.5" y2="1539.5" stroke="#111" stroke-width="3.2" stroke-linecap="butt"/>
<line x1="1207.8" y1="1527.0" x2="1207.8" y2="1539.5" stroke="#111" stroke-width="3.2" stroke-linecap="butt"/>
<line x1="1339.0" y1="1527.0" x2="1339.0" y2="1539.5" stroke="#111" stroke-width="3.2" stroke-linecap="butt"/>
<line x1="1470.2" y1="1527.0" x2="1470.2" y2="1539.5" stroke="#111" stroke-width="3.2" stroke-linecap="butt"/>
<line x1="1601.5" y1="1527.0" x2="1601.5" y2="1539.5" stroke="#111" stroke-width="3.2" stroke-linecap="butt"/>
<line x1="1732.8" y1="1527.0" x2="1732.8" y2="1539.5" stroke="#111" stroke-width="3.2" stroke-linecap="butt"/>
<text x="121.6" y="1331.4" font-size="24.5" text-anchor="middle" transform="rotate(-90 121.6 1331.4)" fill="#000">Relative CCL2 protein expression</text>
<text x="153.4" y="1331.4" font-size="24.35" text-anchor="middle" transform="rotate(-90 153.4 1331.4)" fill="#000">[normalized to HSP90]</text>
<rect x="250.6" y="1146.5" width="46.4" height="27.4" fill="white" stroke="#111" stroke-width="3.0"/>
<rect x="250.6" y="1193.2" width="46.4" height="27.4" fill="#b8b8b8" stroke="#111" stroke-width="3.0"/>
<text x="318.0" y="1170.5" font-size="26" text-anchor="start" fill="#000">Young</text>
<text x="318.5" y="1217.0" font-size="26" text-anchor="start" fill="#000" letter-spacing="-1.6">Aged</text>
<rect x="238.8" y="1527.2" width="38.1" height="0.5" fill="white" stroke="#111" stroke-width="3.3"/>
<circle cx="240.8" cy="1526.2" r="3.6" fill="#111"/>
<circle cx="257.8" cy="1522.9" r="3.6" fill="#111"/>
<circle cx="274.8" cy="1524.0" r="3.6" fill="#111"/>
<rect x="304.3" y="1528.2" width="38.1" height="0.5" fill="#b8b8b8" stroke="#111" stroke-width="3.3"/>
<circle cx="306.4" cy="1526.4" r="3.6" fill="#111"/>
<circle cx="323.4" cy="1526.0" r="3.6" fill="#111"/>
<circle cx="340.4" cy="1526.0" r="3.6" fill="#111"/>
<rect x="370.0" y="1524.2" width="38.1" height="2.9" fill="white" stroke="#111" stroke-width="3.3"/>
<circle cx="372.1" cy="1526.6" r="3.6" fill="#111"/>
<circle cx="389.1" cy="1520.6" r="3.6" fill="#111"/>
<circle cx="406.1" cy="1524.0" r="3.6" fill="#111"/>
<rect x="435.6" y="1522.2" width="38.1" height="4.8" fill="#b8b8b8" stroke="#111" stroke-width="3.3"/>
<circle cx="437.6" cy="1522.5" r="3.6" fill="#111"/>
<circle cx="454.6" cy="1518.4" r="3.6" fill="#111"/>
<circle cx="471.6" cy="1521.6" r="3.6" fill="#111"/>
<rect x="501.2" y="1528.2" width="38.1" height="0.5" fill="white" stroke="#111" stroke-width="3.3"/>
<circle cx="503.3" cy="1526.5" r="3.6" fill="#111"/>
<circle cx="520.3" cy="1526.0" r="3.6" fill="#111"/>
<circle cx="537.3" cy="1526.5" r="3.6" fill="#111"/>
<rect x="566.8" y="1528.2" width="38.1" height="0.5" fill="#b8b8b8" stroke="#111" stroke-width="3.3"/>
<circle cx="568.9" cy="1526.5" r="3.6" fill="#111"/>
<circle cx="585.9" cy="1525.5" r="3.6" fill="#111"/>
<circle cx="602.9" cy="1526.5" r="3.6" fill="#111"/>
<rect x="632.5" y="1527.2" width="38.1" height="0.5" fill="white" stroke="#111" stroke-width="3.3"/>
<circle cx="634.5" cy="1526.5" r="3.6" fill="#111"/>
<circle cx="651.5" cy="1524.5" r="3.6" fill="#111"/>
<circle cx="668.5" cy="1526.0" r="3.6" fill="#111"/>
<rect x="698.1" y="1517.5" width="38.1" height="9.6" fill="#b8b8b8" stroke="#111" stroke-width="3.3"/>
<circle cx="700.1" cy="1514.5" r="3.6" fill="#111"/>
<circle cx="717.1" cy="1511.5" r="3.6" fill="#111"/>
<circle cx="734.1" cy="1514.0" r="3.6" fill="#111"/>
<rect x="763.7" y="1527.2" width="38.1" height="0.5" fill="white" stroke="#111" stroke-width="3.3"/>
<circle cx="765.8" cy="1526.5" r="3.6" fill="#111"/>
<circle cx="782.8" cy="1524.5" r="3.6" fill="#111"/>
<circle cx="799.8" cy="1525.5" r="3.6" fill="#111"/>
<rect x="829.3" y="1458.8" width="38.1" height="68.3" fill="#b8b8b8" stroke="#111" stroke-width="3.3"/>
<line x1="848.4" y1="1457.1" x2="848.4" y2="1443.4" stroke="#111" stroke-width="3.2" stroke-linecap="butt"/>
<line x1="836.4" y1="1443.4" x2="860.4" y2="1443.4" stroke="#111" stroke-width="3.2" stroke-linecap="butt"/>
<circle cx="848.4" cy="1430.6" r="3.6" fill="#111"/>
<circle cx="838.4" cy="1470.0" r="3.6" fill="#111"/>
<circle cx="858.4" cy="1467.3" r="3.6" fill="#111"/>
<rect x="895.0" y="1509.9" width="38.1" height="17.1" fill="white" stroke="#111" stroke-width="3.3"/>
<line x1="914.0" y1="1508.2" x2="914.0" y2="1499.0" stroke="#111" stroke-width="3.2" stroke-linecap="butt"/>
<line x1="902.0" y1="1499.0" x2="926.0" y2="1499.0" stroke="#111" stroke-width="3.2" stroke-linecap="butt"/>
<circle cx="914.0" cy="1494.4" r="3.6" fill="#111"/>
<circle cx="914.0" cy="1504.0" r="3.6" fill="#111"/>
<circle cx="914.0" cy="1520.0" r="3.6" fill="#111"/>
<rect x="960.6" y="1519.0" width="38.1" height="8.1" fill="#b8b8b8" stroke="#111" stroke-width="3.3"/>
<line x1="979.6" y1="1517.3" x2="979.6" y2="1510.2" stroke="#111" stroke-width="3.2" stroke-linecap="butt"/>
<line x1="967.6" y1="1510.2" x2="991.6" y2="1510.2" stroke="#111" stroke-width="3.2" stroke-linecap="butt"/>
<circle cx="969.6" cy="1506.6" r="3.6" fill="#111"/>
<circle cx="989.6" cy="1514.3" r="3.6" fill="#111"/>
<circle cx="979.6" cy="1524.5" r="3.6" fill="#111"/>
<rect x="1026.2" y="1347.1" width="38.1" height="179.9" fill="white" stroke="#111" stroke-width="3.3"/>
<line x1="1045.3" y1="1345.4" x2="1045.3" y2="1330.6" stroke="#111" stroke-width="3.2" stroke-linecap="butt"/>
<line x1="1033.3" y1="1330.6" x2="1057.3" y2="1330.6" stroke="#111" stroke-width="3.2" stroke-linecap="butt"/>
<circle cx="1045.3" cy="1320.0" r="3.6" fill="#111"/>
<circle cx="1045.3" cy="1342.9" r="3.6" fill="#111"/>
<circle cx="1045.3" cy="1368.9" r="3.6" fill="#111"/>
<rect x="1091.9" y="1342.7" width="38.1" height="184.3" fill="#b8b8b8" stroke="#111" stroke-width="3.3"/>
<line x1="1110.9" y1="1341.0" x2="1110.9" y2="1319.4" stroke="#111" stroke-width="3.2" stroke-linecap="butt"/>
<line x1="1098.9" y1="1319.4" x2="1122.9" y2="1319.4" stroke="#111" stroke-width="3.2" stroke-linecap="butt"/>
<circle cx="1110.9" cy="1299.0" r="3.6" fill="#111"/>
<circle cx="1100.9" cy="1363.8" r="3.6" fill="#111"/>
<circle cx="1120.9" cy="1357.4" r="3.6" fill="#111"/>
<rect x="1157.5" y="1518.0" width="38.1" height="9.1" fill="white" stroke="#111" stroke-width="3.3"/>
<line x1="1176.5" y1="1516.3" x2="1176.5" y2="1511.0" stroke="#111" stroke-width="3.2" stroke-linecap="butt"/>
<line x1="1164.5" y1="1511.0" x2="1188.5" y2="1511.0" stroke="#111" stroke-width="3.2" stroke-linecap="butt"/>
<circle cx="1166.5" cy="1511.0" r="3.6" fill="#111"/>
<circle cx="1186.5" cy="1512.0" r="3.6" fill="#111"/>
<circle cx="1176.5" cy="1522.0" r="3.6" fill="#111"/>
<rect x="1223.1" y="1507.1" width="38.1" height="19.9" fill="#b8b8b8" stroke="#111" stroke-width="3.3"/>
<line x1="1242.2" y1="1505.4" x2="1242.2" y2="1502.0" stroke="#111" stroke-width="3.2" stroke-linecap="butt"/>
<line x1="1230.2" y1="1502.0" x2="1254.2" y2="1502.0" stroke="#111" stroke-width="3.2" stroke-linecap="butt"/>
<circle cx="1242.2" cy="1499.0" r="3.6" fill="#111"/>
<circle cx="1225.2" cy="1508.0" r="3.6" fill="#111"/>
<circle cx="1259.2" cy="1506.0" r="3.6" fill="#111"/>
<rect x="1288.8" y="1524.7" width="38.1" height="2.4" fill="white" stroke="#111" stroke-width="3.3"/>
<circle cx="1290.8" cy="1525.5" r="3.6" fill="#111"/>
<circle cx="1307.8" cy="1522.0" r="3.6" fill="#111"/>
<circle cx="1324.8" cy="1524.0" r="3.6" fill="#111"/>
<rect x="1354.4" y="1450.4" width="38.1" height="76.6" fill="#b8b8b8" stroke="#111" stroke-width="3.3"/>
<line x1="1373.4" y1="1448.7" x2="1373.4" y2="1433.4" stroke="#111" stroke-width="3.2" stroke-linecap="butt"/>
<line x1="1361.4" y1="1433.4" x2="1385.4" y2="1433.4" stroke="#111" stroke-width="3.2" stroke-linecap="butt"/>
<circle cx="1373.4" cy="1419.4" r="3.6" fill="#111"/>
<circle cx="1363.4" cy="1462.8" r="3.6" fill="#111"/>
<circle cx="1383.4" cy="1460.7" r="3.6" fill="#111"/>
<rect x="1420.0" y="1527.7" width="38.1" height="0.5" fill="white" stroke="#111" stroke-width="3.3"/>
<circle cx="1422.0" cy="1526.5" r="3.6" fill="#111"/>
<circle cx="1439.0" cy="1526.0" r="3.6" fill="#111"/>
<circle cx="1456.0" cy="1526.5" r="3.6" fill="#111"/>
<rect x="1485.6" y="1518.9" width="38.1" height="8.1" fill="#b8b8b8" stroke="#111" stroke-width="3.3"/>
<circle cx="1487.7" cy="1521.0" r="3.6" fill="#111"/>
<circle cx="1504.7" cy="1514.6" r="3.6" fill="#111"/>
<circle cx="1521.7" cy="1518.5" r="3.6" fill="#111"/>
<rect x="1551.2" y="1522.7" width="38.1" height="4.3" fill="white" stroke="#111" stroke-width="3.3"/>
<circle cx="1553.3" cy="1522.4" r="3.6" fill="#111"/>
<circle cx="1570.3" cy="1519.8" r="3.6" fill="#111"/>
<circle cx="1587.3" cy="1522.4" r="3.6" fill="#111"/>
<rect x="1616.9" y="1447.7" width="38.1" height="79.3" fill="#b8b8b8" stroke="#111" stroke-width="3.3"/>
<line x1="1635.9" y1="1446.0" x2="1635.9" y2="1418.3" stroke="#111" stroke-width="3.2" stroke-linecap="butt"/>
<line x1="1623.9" y1="1418.3" x2="1647.9" y2="1418.3" stroke="#111" stroke-width="3.2" stroke-linecap="butt"/>
<circle cx="1635.9" cy="1392.4" r="3.6" fill="#111"/>
<circle cx="1635.9" cy="1462.8" r="3.6" fill="#111"/>
<circle cx="1635.9" cy="1477.8" r="3.6" fill="#111"/>
<rect x="1682.5" y="1515.7" width="38.1" height="11.3" fill="white" stroke="#111" stroke-width="3.3"/>
<circle cx="1684.5" cy="1514.6" r="3.6" fill="#111"/>
<circle cx="1701.5" cy="1512.0" r="3.6" fill="#111"/>
<circle cx="1718.5" cy="1514.0" r="3.6" fill="#111"/>
<rect x="1748.1" y="1309.9" width="38.1" height="217.1" fill="#b8b8b8" stroke="#111" stroke-width="3.3"/>
<line x1="1767.2" y1="1308.2" x2="1767.2" y2="1290.1" stroke="#111" stroke-width="3.2" stroke-linecap="butt"/>
<line x1="1755.2" y1="1290.1" x2="1779.2" y2="1290.1" stroke="#111" stroke-width="3.2" stroke-linecap="butt"/>
<circle cx="1767.2" cy="1273.8" r="3.6" fill="#111"/>
<circle cx="1767.2" cy="1317.8" r="3.6" fill="#111"/>
<circle cx="1767.2" cy="1330.2" r="3.6" fill="#111"/>
<text x="267.4" y="1603.6" font-size="29.5" text-anchor="middle" transform="rotate(-45 267.4 1603.6)" fill="#000">Muscle</text>
<text x="399.4" y="1602.7" font-size="29.5" text-anchor="middle" transform="rotate(-45 399.4 1602.7)" fill="#000">Spleen</text>
<text x="531.5" y="1593.8" font-size="29.5" text-anchor="middle" transform="rotate(-45 531.5 1593.8)" fill="#000">Brain</text>
<text x="663.0" y="1602.3" font-size="29.5" text-anchor="middle" transform="rotate(-45 663.0 1602.3)" fill="#000">Kidney</text>
<text x="794.6" y="1608.2" font-size="29.5" text-anchor="middle" transform="rotate(-45 794.6 1608.2)" fill="#000">Thymus</text>
<text x="926.5" y="1592.8" font-size="29.5" text-anchor="middle" transform="rotate(-45 926.5 1592.8)" fill="#000">Liver</text>
<text x="1059.0" y="1592.8" font-size="29.5" text-anchor="middle" transform="rotate(-45 1059.0 1592.8)" fill="#000">Lung</text>
<text x="1190.8" y="1589.2" font-size="29.5" text-anchor="middle" transform="rotate(-45 1190.8 1589.2)" fill="#000">Skin</text>
<text x="1322.0" y="1591.4" font-size="29.5" text-anchor="middle" transform="rotate(-45 1322.0 1591.4)" fill="#000">MLN</text>
<text x="1453.9" y="1596.2" font-size="29.5" text-anchor="middle" transform="rotate(-45 1453.9 1596.2)" fill="#000">Colon</text>
<text x="1585.7" y="1602.3" font-size="29.5" text-anchor="middle" transform="rotate(-45 1585.7 1602.3)" fill="#000">scWAT</text>
<text x="1717.2" y="1597.4" font-size="29.5" text-anchor="middle" transform="rotate(-45 1717.2 1597.4)" fill="#000">eWAT</text>
<line x1="223.2" y1="1743.1" x2="223.2" y2="2103.4" stroke="#111" stroke-width="3.5" stroke-linecap="butt"/>
<line x1="221.4" y1="2101.6" x2="925.2" y2="2101.6" stroke="#111" stroke-width="3.5" stroke-linecap="butt"/>
<line x1="209.7" y1="2101.6" x2="223.2" y2="2101.6" stroke="#111" stroke-width="3.4" stroke-linecap="butt"/>
<text x="204.0" y="2111.1" font-size="21.5" text-anchor="end" fill="#000">0.0</text>
<line x1="209.7" y1="2030.3" x2="223.2" y2="2030.3" stroke="#111" stroke-width="3.4" stroke-linecap="butt"/>
<text x="204.0" y="2039.8" font-size="21.5" text-anchor="end" fill="#000">0.5</text>
<line x1="209.7" y1="1958.9" x2="223.2" y2="1958.9" stroke="#111" stroke-width="3.4" stroke-linecap="butt"/>
<text x="204.0" y="1968.5" font-size="21.5" text-anchor="end" fill="#000">1.0</text>
<line x1="209.7" y1="1887.6" x2="223.2" y2="1887.6" stroke="#111" stroke-width="3.4" stroke-linecap="butt"/>
<text x="204.0" y="1897.1" font-size="21.5" text-anchor="end" fill="#000">1.5</text>
<line x1="209.7" y1="1816.3" x2="223.2" y2="1816.3" stroke="#111" stroke-width="3.4" stroke-linecap="butt"/>
<text x="204.0" y="1825.8" font-size="21.5" text-anchor="end" fill="#000">2.0</text>
<line x1="209.7" y1="1744.9" x2="223.2" y2="1744.9" stroke="#111" stroke-width="3.4" stroke-linecap="butt"/>
<text x="204.0" y="1754.5" font-size="21.5" text-anchor="end" fill="#000">2.5</text>
<line x1="251.5" y1="2101.6" x2="251.5" y2="2114.6" stroke="#111" stroke-width="3.5" stroke-linecap="butt"/>
<line x1="310.0" y1="2101.6" x2="310.0" y2="2114.6" stroke="#111" stroke-width="3.5" stroke-linecap="butt"/>
<line x1="368.4" y1="2101.6" x2="368.4" y2="2114.6" stroke="#111" stroke-width="3.5" stroke-linecap="butt"/>
<line x1="426.9" y1="2101.6" x2="426.9" y2="2114.6" stroke="#111" stroke-width="3.5" stroke-linecap="butt"/>
<line x1="485.4" y1="2101.6" x2="485.4" y2="2114.6" stroke="#111" stroke-width="3.5" stroke-linecap="butt"/>
<line x1="543.9" y1="2101.6" x2="543.9" y2="2114.6" stroke="#111" stroke-width="3.5" stroke-linecap="butt"/>
<line x1="602.3" y1="2101.6" x2="602.3" y2="2114.6" stroke="#111" stroke-width="3.5" stroke-linecap="butt"/>
<line x1="660.8" y1="2101.6" x2="660.8" y2="2114.6" stroke="#111" stroke-width="3.5" stroke-linecap="butt"/>
<line x1="719.3" y1="2101.6" x2="719.3" y2="2114.6" stroke="#111" stroke-width="3.5" stroke-linecap="butt"/>
<line x1="777.7" y1="2101.6" x2="777.7" y2="2114.6" stroke="#111" stroke-width="3.5" stroke-linecap="butt"/>
<line x1="836.2" y1="2101.6" x2="836.2" y2="2114.6" stroke="#111" stroke-width="3.5" stroke-linecap="butt"/>
<line x1="894.7" y1="2101.6" x2="894.7" y2="2114.6" stroke="#111" stroke-width="3.5" stroke-linecap="butt"/>
<rect x="232.3" y="2097.9" width="38.4" height="3.7" fill="#b8b8b8" stroke="#111" stroke-width="3.6"/>
<line x1="251.5" y1="2096.9" x2="251.5" y2="2090.8" stroke="#111" stroke-width="3.6" stroke-linecap="butt"/>
<line x1="240.5" y1="2090.8" x2="262.5" y2="2090.8" stroke="#111" stroke-width="3.6" stroke-linecap="butt"/>
<circle cx="262.5" cy="2085.5" r="3.6" fill="#111"/>
<circle cx="241.5" cy="2092.0" r="3.6" fill="#111"/>
<circle cx="246.5" cy="2102.5" r="3.6" fill="#111"/>
<circle cx="255.5" cy="2102.5" r="3.6" fill="#111"/>
<rect x="290.8" y="2099.0" width="38.4" height="2.6" fill="#b8b8b8" stroke="#111" stroke-width="3.6"/>
<circle cx="299.0" cy="2096.9" r="3.6" fill="#111"/>
<circle cx="321.0" cy="2094.5" r="3.6" fill="#111"/>
<circle cx="306.0" cy="2101.0" r="3.6" fill="#111"/>
<circle cx="314.0" cy="2101.0" r="3.6" fill="#111"/>
<rect x="349.2" y="2100.0" width="38.4" height="1.6" fill="#b8b8b8" stroke="#111" stroke-width="3.6"/>
<circle cx="378.4" cy="2095.7" r="3.6" fill="#111"/>
<circle cx="358.4" cy="2099.3" r="3.6" fill="#111"/>
<circle cx="364.4" cy="2101.0" r="3.6" fill="#111"/>
<circle cx="371.4" cy="2101.0" r="3.6" fill="#111"/>
<rect x="407.7" y="2100.5" width="38.4" height="1.1" fill="#b8b8b8" stroke="#111" stroke-width="3.6"/>
<circle cx="415.9" cy="2099.3" r="3.6" fill="#111"/>
<circle cx="437.9" cy="2098.1" r="3.6" fill="#111"/>
<circle cx="422.9" cy="2101.5" r="3.6" fill="#111"/>
<circle cx="431.9" cy="2101.5" r="3.6" fill="#111"/>
<rect x="466.2" y="2102.0" width="38.4" height="0.5" fill="#b8b8b8" stroke="#111" stroke-width="3.6"/>
<circle cx="474.4" cy="2101.5" r="3.6" fill="#111"/>
<circle cx="482.4" cy="2101.5" r="3.6" fill="#111"/>
<circle cx="490.4" cy="2101.5" r="3.6" fill="#111"/>
<circle cx="496.4" cy="2101.5" r="3.6" fill="#111"/>
<rect x="524.6" y="2102.0" width="38.4" height="0.5" fill="#b8b8b8" stroke="#111" stroke-width="3.6"/>
<circle cx="533.9" cy="2101.5" r="3.6" fill="#111"/>
<circle cx="540.9" cy="2101.5" r="3.6" fill="#111"/>
<circle cx="547.9" cy="2101.5" r="3.6" fill="#111"/>
<circle cx="554.9" cy="2101.5" r="3.6" fill="#111"/>
<rect x="583.1" y="2099.8" width="38.4" height="1.8" fill="#b8b8b8" stroke="#111" stroke-width="3.6"/>
<line x1="602.3" y1="2098.8" x2="602.3" y2="2095.0" stroke="#111" stroke-width="3.6" stroke-linecap="butt"/>
<line x1="591.3" y1="2095.0" x2="613.3" y2="2095.0" stroke="#111" stroke-width="3.6" stroke-linecap="butt"/>
<circle cx="591.3" cy="2095.0" r="3.6" fill="#111"/>
<circle cx="612.3" cy="2092.4" r="3.6" fill="#111"/>
<circle cx="597.3" cy="2102.6" r="3.6" fill="#111"/>
<circle cx="605.3" cy="2102.6" r="3.6" fill="#111"/>
<rect x="641.6" y="2092.2" width="38.4" height="9.4" fill="#b8b8b8" stroke="#111" stroke-width="3.6"/>
<line x1="660.8" y1="2091.2" x2="660.8" y2="2079.7" stroke="#111" stroke-width="3.6" stroke-linecap="butt"/>
<line x1="649.8" y1="2079.7" x2="671.8" y2="2079.7" stroke="#111" stroke-width="3.6" stroke-linecap="butt"/>
<circle cx="660.8" cy="2058.0" r="3.6" fill="#111"/>
<circle cx="651.8" cy="2101.4" r="3.6" fill="#111"/>
<circle cx="660.8" cy="2101.4" r="3.6" fill="#111"/>
<circle cx="669.8" cy="2101.4" r="3.6" fill="#111"/>
<rect x="700.1" y="2096.0" width="38.4" height="5.6" fill="#b8b8b8" stroke="#111" stroke-width="3.6"/>
<line x1="719.3" y1="2095.0" x2="719.3" y2="2089.1" stroke="#111" stroke-width="3.6" stroke-linecap="butt"/>
<line x1="708.3" y1="2089.1" x2="730.3" y2="2089.1" stroke="#111" stroke-width="3.6" stroke-linecap="butt"/>
<circle cx="730.3" cy="2080.2" r="3.6" fill="#111"/>
<circle cx="709.3" cy="2093.0" r="3.6" fill="#111"/>
<circle cx="716.3" cy="2102.6" r="3.6" fill="#111"/>
<circle cx="723.3" cy="2102.6" r="3.6" fill="#111"/>
<rect x="758.5" y="2102.0" width="38.4" height="0.5" fill="#b8b8b8" stroke="#111" stroke-width="3.6"/>
<circle cx="765.7" cy="2101.5" r="3.6" fill="#111"/>
<circle cx="773.7" cy="2101.5" r="3.6" fill="#111"/>
<circle cx="780.7" cy="2101.5" r="3.6" fill="#111"/>
<circle cx="788.7" cy="2101.5" r="3.6" fill="#111"/>
<rect x="817.0" y="2071.0" width="38.4" height="30.6" fill="#b8b8b8" stroke="#111" stroke-width="3.6"/>
<line x1="836.2" y1="2070.0" x2="836.2" y2="2047.3" stroke="#111" stroke-width="3.6" stroke-linecap="butt"/>
<line x1="825.2" y1="2047.3" x2="847.2" y2="2047.3" stroke="#111" stroke-width="3.6" stroke-linecap="butt"/>
<circle cx="836.2" cy="2009.0" r="3.6" fill="#111"/>
<circle cx="836.2" cy="2067.0" r="3.6" fill="#111"/>
<circle cx="827.2" cy="2097.0" r="3.6" fill="#111"/>
<circle cx="846.2" cy="2097.0" r="3.6" fill="#111"/>
<rect x="875.5" y="1992.2" width="38.4" height="109.4" fill="#b8b8b8" stroke="#111" stroke-width="3.6"/>
<line x1="894.7" y1="1991.2" x2="894.7" y2="1922.8" stroke="#111" stroke-width="3.6" stroke-linecap="butt"/>
<line x1="883.7" y1="1922.8" x2="905.7" y2="1922.8" stroke="#111" stroke-width="3.6" stroke-linecap="butt"/>
<circle cx="894.7" cy="1791.4" r="3.6" fill="#111"/>
<circle cx="894.7" cy="2018.5" r="3.6" fill="#111"/>
<circle cx="904.7" cy="2067.7" r="3.6" fill="#111"/>
<circle cx="884.7" cy="2081.5" r="3.6" fill="#111"/>
<text x="258.6" y="2050.3" font-size="43" text-anchor="middle" font-weight="bold" letter-spacing="2.2" fill="#000">**</text>
<text x="313.0" y="2080.7" font-size="43" text-anchor="middle" font-weight="bold" letter-spacing="2.2" fill="#000">**</text>
<text x="376.0" y="2050.3" font-size="43" text-anchor="middle" font-weight="bold" letter-spacing="2.2" fill="#000">**</text>
<text x="431.3" y="2080.7" font-size="43" text-anchor="middle" font-weight="bold" letter-spacing="2.2" fill="#000">**</text>
<text x="488.8" y="2050.3" font-size="43" text-anchor="middle" font-weight="bold" letter-spacing="2.2" fill="#000">**</text>
<text x="544.3" y="2080.7" font-size="43" text-anchor="middle" font-weight="bold" letter-spacing="2.2" fill="#000">**</text>
<text x="596.5" y="2050.9" font-size="43" text-anchor="middle" font-weight="bold" letter-spacing="2.2" fill="#000">**</text>
<text x="662.2" y="2029.2" font-size="43" text-anchor="middle" font-weight="bold" letter-spacing="2.2" fill="#000">*</text>
<text x="721.5" y="2050.9" font-size="43" text-anchor="middle" font-weight="bold" letter-spacing="2.2" fill="#000">**</text>
<text x="782.4" y="2073.9" font-size="43" text-anchor="middle" font-weight="bold" letter-spacing="2.2" fill="#000">**</text>
<text x="838.0" y="1949.6" font-size="30" text-anchor="middle" font-style="italic" fill="#000">ns</text>
<text x="241.5" y="2151.4" font-size="25.7" text-anchor="middle" transform="rotate(-45 241.5 2151.4)" fill="#000">Brain</text>
<text x="296.9" y="2153.6" font-size="25.7" text-anchor="middle" transform="rotate(-45 296.9 2153.6)" fill="#000">Colon</text>
<text x="358.8" y="2152.3" font-size="25.7" text-anchor="middle" transform="rotate(-45 358.8 2152.3)" fill="#000">Heart</text>
<text x="408.5" y="2158.1" font-size="25.7" text-anchor="middle" transform="rotate(-45 408.5 2158.1)" fill="#000">Kidney</text>
<text x="477.4" y="2150.1" font-size="25.7" text-anchor="middle" transform="rotate(-45 477.4 2150.1)" fill="#000">Liver</text>
<text x="535.0" y="2151.4" font-size="25.7" text-anchor="middle" transform="rotate(-45 535.0 2151.4)" fill="#000">Lung</text>
<text x="597.5" y="2149.4" font-size="25.7" text-anchor="middle" transform="rotate(-45 597.5 2149.4)" fill="#000">MLN</text>
<text x="641.7" y="2158.8" font-size="25.7" text-anchor="middle" transform="rotate(-45 641.7 2158.8)" fill="#000">Muscle</text>
<text x="714.0" y="2147.9" font-size="25.7" text-anchor="middle" transform="rotate(-45 714.0 2147.9)" fill="#000">Skin</text>
<text x="760.1" y="2158.6" font-size="25.7" text-anchor="middle" transform="rotate(-45 760.1 2158.6)" fill="#000">Spleen</text>
<text x="817.1" y="2158.1" font-size="25.7" text-anchor="middle" transform="rotate(-45 817.1 2158.1)" fill="#000">scWAT</text>
<text x="884.3" y="2154.2" font-size="25.7" text-anchor="middle" transform="rotate(-45 884.3 2154.2)" fill="#000">eWAT</text>
<text x="111.6" y="1931.0" font-size="24.55" text-anchor="middle" transform="rotate(-90 111.6 1931.0)" fill="#000">relative CCL11 expression</text>
<text x="142.0" y="1931.1" font-size="24.6" text-anchor="middle" transform="rotate(-90 142.0 1931.1)" fill="#000">[normalized to β-actin]</text>
<line x1="1099.2" y1="1742.8" x2="1099.2" y2="2103.4" stroke="#111" stroke-width="3.5" stroke-linecap="butt"/>
<line x1="1097.4" y1="2101.6" x2="1801.8" y2="2101.6" stroke="#111" stroke-width="3.5" stroke-linecap="butt"/>
<line x1="1085.7" y1="2101.6" x2="1099.2" y2="2101.6" stroke="#111" stroke-width="3.4" stroke-linecap="butt"/>
<text x="1081.5" y="2111.1" font-size="21.5" text-anchor="end" fill="#000">0.00</text>
<line x1="1085.7" y1="2012.3" x2="1099.2" y2="2012.3" stroke="#111" stroke-width="3.4" stroke-linecap="butt"/>
<text x="1081.5" y="2021.9" font-size="21.5" text-anchor="end" fill="#000">0.01</text>
<line x1="1085.7" y1="1923.1" x2="1099.2" y2="1923.1" stroke="#111" stroke-width="3.4" stroke-linecap="butt"/>
<text x="1081.5" y="1932.6" font-size="21.5" text-anchor="end" fill="#000">0.02</text>
<line x1="1085.7" y1="1833.8" x2="1099.2" y2="1833.8" stroke="#111" stroke-width="3.4" stroke-linecap="butt"/>
<text x="1081.5" y="1843.4" font-size="21.5" text-anchor="end" fill="#000">0.03</text>
<line x1="1085.7" y1="1744.6" x2="1099.2" y2="1744.6" stroke="#111" stroke-width="3.4" stroke-linecap="butt"/>
<text x="1081.5" y="1754.1" font-size="21.5" text-anchor="end" fill="#000">0.04</text>
<line x1="1127.8" y1="2101.6" x2="1127.8" y2="2114.6" stroke="#111" stroke-width="3.5" stroke-linecap="butt"/>
<line x1="1186.2" y1="2101.6" x2="1186.2" y2="2114.6" stroke="#111" stroke-width="3.5" stroke-linecap="butt"/>
<line x1="1244.7" y1="2101.6" x2="1244.7" y2="2114.6" stroke="#111" stroke-width="3.5" stroke-linecap="butt"/>
<line x1="1303.2" y1="2101.6" x2="1303.2" y2="2114.6" stroke="#111" stroke-width="3.5" stroke-linecap="butt"/>
<line x1="1361.6" y1="2101.6" x2="1361.6" y2="2114.6" stroke="#111" stroke-width="3.5" stroke-linecap="butt"/>
<line x1="1420.0" y1="2101.6" x2="1420.0" y2="2114.6" stroke="#111" stroke-width="3.5" stroke-linecap="butt"/>
<line x1="1478.5" y1="2101.6" x2="1478.5" y2="2114.6" stroke="#111" stroke-width="3.5" stroke-linecap="butt"/>
<line x1="1537.0" y1="2101.6" x2="1537.0" y2="2114.6" stroke="#111" stroke-width="3.5" stroke-linecap="butt"/>
<line x1="1595.4" y1="2101.6" x2="1595.4" y2="2114.6" stroke="#111" stroke-width="3.5" stroke-linecap="butt"/>
<line x1="1653.8" y1="2101.6" x2="1653.8" y2="2114.6" stroke="#111" stroke-width="3.5" stroke-linecap="butt"/>
<line x1="1712.3" y1="2101.6" x2="1712.3" y2="2114.6" stroke="#111" stroke-width="3.5" stroke-linecap="butt"/>
<line x1="1770.8" y1="2101.6" x2="1770.8" y2="2114.6" stroke="#111" stroke-width="3.5" stroke-linecap="butt"/>
<rect x="1108.6" y="2087.4" width="38.4" height="14.2" fill="#b8b8b8" stroke="#111" stroke-width="3.6"/>
<line x1="1127.8" y1="2086.4" x2="1127.8" y2="2076.5" stroke="#111" stroke-width="3.6" stroke-linecap="butt"/>
<line x1="1116.8" y1="2076.5" x2="1138.8" y2="2076.5" stroke="#111" stroke-width="3.6" stroke-linecap="butt"/>
<circle cx="1118.3" cy="2063.5" r="3.6" fill="#111"/>
<circle cx="1138.4" cy="2077.2" r="3.6" fill="#111"/>
<circle cx="1118.3" cy="2100.6" r="3.6" fill="#111"/>
<circle cx="1138.4" cy="2100.6" r="3.6" fill="#111"/>
<rect x="1167.0" y="2094.0" width="38.4" height="7.6" fill="#b8b8b8" stroke="#111" stroke-width="3.6"/>
<line x1="1186.2" y1="2093.0" x2="1186.2" y2="2089.5" stroke="#111" stroke-width="3.6" stroke-linecap="butt"/>
<line x1="1175.2" y1="2089.5" x2="1197.2" y2="2089.5" stroke="#111" stroke-width="3.6" stroke-linecap="butt"/>
<circle cx="1176.2" cy="2089.5" r="3.6" fill="#111"/>
<circle cx="1197.2" cy="2086.0" r="3.6" fill="#111"/>
<circle cx="1191.2" cy="2093.0" r="3.6" fill="#111"/>
<circle cx="1181.2" cy="2099.6" r="3.6" fill="#111"/>
<rect x="1225.5" y="2035.5" width="38.4" height="66.1" fill="#b8b8b8" stroke="#111" stroke-width="3.6"/>
<line x1="1244.7" y1="2034.5" x2="1244.7" y2="2001.5" stroke="#111" stroke-width="3.6" stroke-linecap="butt"/>
<line x1="1233.7" y1="2001.5" x2="1255.7" y2="2001.5" stroke="#111" stroke-width="3.6" stroke-linecap="butt"/>
<circle cx="1244.7" cy="1940.4" r="3.6" fill="#111"/>
<circle cx="1244.7" cy="2044.0" r="3.6" fill="#111"/>
<circle cx="1235.0" cy="2074.9" r="3.6" fill="#111"/>
<circle cx="1254.6" cy="2072.5" r="3.6" fill="#111"/>
<rect x="1284.0" y="1987.9" width="38.4" height="113.7" fill="#b8b8b8" stroke="#111" stroke-width="3.6"/>
<line x1="1303.2" y1="1986.9" x2="1303.2" y2="1955.2" stroke="#111" stroke-width="3.6" stroke-linecap="butt"/>
<line x1="1292.2" y1="1955.2" x2="1314.2" y2="1955.2" stroke="#111" stroke-width="3.6" stroke-linecap="butt"/>
<circle cx="1293.2" cy="1936.6" r="3.6" fill="#111"/>
<circle cx="1313.2" cy="1934.2" r="3.6" fill="#111"/>
<circle cx="1303.2" cy="2014.5" r="3.6" fill="#111"/>
<circle cx="1303.2" cy="2055.8" r="3.6" fill="#111"/>
<rect x="1342.4" y="2011.9" width="38.4" height="89.7" fill="#b8b8b8" stroke="#111" stroke-width="3.6"/>
<line x1="1361.6" y1="2010.9" x2="1361.6" y2="1981.2" stroke="#111" stroke-width="3.6" stroke-linecap="butt"/>
<line x1="1350.6" y1="1981.2" x2="1372.6" y2="1981.2" stroke="#111" stroke-width="3.6" stroke-linecap="butt"/>
<circle cx="1361.6" cy="1945.1" r="3.6" fill="#111"/>
<circle cx="1361.6" cy="1979.8" r="3.6" fill="#111"/>
<circle cx="1351.9" cy="2059.5" r="3.6" fill="#111"/>
<circle cx="1371.0" cy="2052.2" r="3.6" fill="#111"/>
<rect x="1400.8" y="2097.6" width="38.4" height="4.0" fill="#b8b8b8" stroke="#111" stroke-width="3.6"/>
<line x1="1420.0" y1="2096.6" x2="1420.0" y2="2091.9" stroke="#111" stroke-width="3.6" stroke-linecap="butt"/>
<line x1="1409.0" y1="2091.9" x2="1431.0" y2="2091.9" stroke="#111" stroke-width="3.6" stroke-linecap="butt"/>
<circle cx="1430.8" cy="2085.5" r="3.6" fill="#111"/>
<circle cx="1415.3" cy="2100.1" r="3.6" fill="#111"/>
<circle cx="1424.8" cy="2095.4" r="3.6" fill="#111"/>
<circle cx="1412.0" cy="2098.0" r="3.6" fill="#111"/>
<rect x="1459.3" y="1990.5" width="38.4" height="111.1" fill="#b8b8b8" stroke="#111" stroke-width="3.6"/>
<line x1="1478.5" y1="1989.5" x2="1478.5" y2="1953.3" stroke="#111" stroke-width="3.6" stroke-linecap="butt"/>
<line x1="1467.5" y1="1953.3" x2="1489.5" y2="1953.3" stroke="#111" stroke-width="3.6" stroke-linecap="butt"/>
<circle cx="1478.5" cy="1897.7" r="3.6" fill="#111"/>
<circle cx="1468.7" cy="1982.9" r="3.6" fill="#111"/>
<circle cx="1488.1" cy="2004.6" r="3.6" fill="#111"/>
<circle cx="1478.5" cy="2065.8" r="3.6" fill="#111"/>
<rect x="1517.8" y="2014.3" width="38.4" height="87.3" fill="#b8b8b8" stroke="#111" stroke-width="3.6"/>
<line x1="1537.0" y1="2013.3" x2="1537.0" y2="1972.0" stroke="#111" stroke-width="3.6" stroke-linecap="butt"/>
<line x1="1526.0" y1="1972.0" x2="1548.0" y2="1972.0" stroke="#111" stroke-width="3.6" stroke-linecap="butt"/>
<circle cx="1537.0" cy="1931.1" r="3.6" fill="#111"/>
<circle cx="1537.0" cy="1956.8" r="3.6" fill="#111"/>
<circle cx="1526.9" cy="2080.3" r="3.6" fill="#111"/>
<circle cx="1546.8" cy="2079.1" r="3.6" fill="#111"/>
<rect x="1576.2" y="2032.5" width="38.4" height="69.1" fill="#b8b8b8" stroke="#111" stroke-width="3.6"/>
<line x1="1595.4" y1="2031.5" x2="1595.4" y2="1999.3" stroke="#111" stroke-width="3.6" stroke-linecap="butt"/>
<line x1="1584.4" y1="1999.3" x2="1606.4" y2="1999.3" stroke="#111" stroke-width="3.6" stroke-linecap="butt"/>
<circle cx="1595.4" cy="1942.5" r="3.6" fill="#111"/>
<circle cx="1585.4" cy="2038.5" r="3.6" fill="#111"/>
<circle cx="1605.2" cy="2051.3" r="3.6" fill="#111"/>
<circle cx="1595.4" cy="2088.0" r="3.6" fill="#111"/>
<rect x="1634.6" y="2077.3" width="38.4" height="24.3" fill="#b8b8b8" stroke="#111" stroke-width="3.6"/>
<line x1="1653.8" y1="2076.3" x2="1653.8" y2="2060.0" stroke="#111" stroke-width="3.6" stroke-linecap="butt"/>
<line x1="1642.8" y1="2060.0" x2="1664.8" y2="2060.0" stroke="#111" stroke-width="3.6" stroke-linecap="butt"/>
<circle cx="1643.8" cy="2040.1" r="3.6" fill="#111"/>
<circle cx="1663.6" cy="2060.7" r="3.6" fill="#111"/>
<circle cx="1643.8" cy="2098.5" r="3.6" fill="#111"/>
<circle cx="1663.6" cy="2098.5" r="3.6" fill="#111"/>
<rect x="1693.1" y="2034.6" width="38.4" height="67.0" fill="#b8b8b8" stroke="#111" stroke-width="3.6"/>
<line x1="1712.3" y1="2033.6" x2="1712.3" y2="2007.4" stroke="#111" stroke-width="3.6" stroke-linecap="butt"/>
<line x1="1701.3" y1="2007.4" x2="1723.3" y2="2007.4" stroke="#111" stroke-width="3.6" stroke-linecap="butt"/>
<circle cx="1712.3" cy="1960.7" r="3.6" fill="#111"/>
<circle cx="1712.3" cy="2041.3" r="3.6" fill="#111"/>
<circle cx="1722.1" cy="2054.1" r="3.6" fill="#111"/>
<circle cx="1702.8" cy="2072.1" r="3.6" fill="#111"/>
<rect x="1751.5" y="1885.9" width="38.4" height="215.7" fill="#b8b8b8" stroke="#111" stroke-width="3.6"/>
<line x1="1770.8" y1="1884.9" x2="1770.8" y2="1849.9" stroke="#111" stroke-width="3.6" stroke-linecap="butt"/>
<line x1="1759.8" y1="1849.9" x2="1781.8" y2="1849.9" stroke="#111" stroke-width="3.6" stroke-linecap="butt"/>
<circle cx="1770.8" cy="1795.5" r="3.6" fill="#111"/>
<circle cx="1770.8" cy="1874.8" r="3.6" fill="#111"/>
<circle cx="1770.8" cy="1910.6" r="3.6" fill="#111"/>
<circle cx="1770.8" cy="1951.9" r="3.6" fill="#111"/>
<text x="1137.0" y="2037.2" font-size="43" text-anchor="middle" font-weight="bold" letter-spacing="2.2" fill="#000">***</text>
<text x="1189.0" y="2073.3" font-size="43" text-anchor="middle" font-weight="bold" letter-spacing="2.2" fill="#000">***</text>
<text x="1245.5" y="1918.8" font-size="43" text-anchor="middle" font-weight="bold" letter-spacing="2.2" fill="#000">**</text>
<text x="1301.8" y="1872.4" font-size="30" text-anchor="middle" font-style="italic" fill="#000">ns</text>
<text x="1362.4" y="1918.7" font-size="43" text-anchor="middle" font-weight="bold" letter-spacing="2.2" fill="#000">*</text>
<text x="1421.6" y="2082.1" font-size="43" text-anchor="middle" font-weight="bold" letter-spacing="2.2" fill="#000">***</text>
<text x="1479.3" y="1872.0" font-size="30" text-anchor="middle" font-style="italic" fill="#000">ns</text>
<text x="1539.2" y="1920.6" font-size="43" text-anchor="middle" font-weight="bold" letter-spacing="2.2" fill="#000">*</text>
<text x="1593.0" y="1920.6" font-size="43" text-anchor="middle" font-weight="bold" letter-spacing="2.2" fill="#000">**</text>
<text x="1655.0" y="2032.6" font-size="43" text-anchor="middle" font-weight="bold" letter-spacing="2.2" fill="#000">***</text>
<text x="1712.0" y="1924.8" font-size="43" text-anchor="middle" font-weight="bold" letter-spacing="2.2" fill="#000">**</text>
<text x="1117.8" y="2151.4" font-size="25.7" text-anchor="middle" transform="rotate(-45 1117.8 2151.4)" fill="#000">Brain</text>
<text x="1173.1" y="2153.6" font-size="25.7" text-anchor="middle" transform="rotate(-45 1173.1 2153.6)" fill="#000">Colon</text>
<text x="1235.0" y="2152.3" font-size="25.7" text-anchor="middle" transform="rotate(-45 1235.0 2152.3)" fill="#000">Heart</text>
<text x="1284.8" y="2158.1" font-size="25.7" text-anchor="middle" transform="rotate(-45 1284.8 2158.1)" fill="#000">Kidney</text>
<text x="1353.6" y="2150.1" font-size="25.7" text-anchor="middle" transform="rotate(-45 1353.6 2150.1)" fill="#000">Liver</text>
<text x="1411.3" y="2151.4" font-size="25.7" text-anchor="middle" transform="rotate(-45 1411.3 2151.4)" fill="#000">Lung</text>
<text x="1473.8" y="2149.4" font-size="25.7" text-anchor="middle" transform="rotate(-45 1473.8 2149.4)" fill="#000">MLN</text>
<text x="1518.0" y="2158.8" font-size="25.7" text-anchor="middle" transform="rotate(-45 1518.0 2158.8)" fill="#000">Muscle</text>
<text x="1590.3" y="2147.9" font-size="25.7" text-anchor="middle" transform="rotate(-45 1590.3 2147.9)" fill="#000">Skin</text>
<text x="1636.4" y="2158.6" font-size="25.7" text-anchor="middle" transform="rotate(-45 1636.4 2158.6)" fill="#000">Spleen</text>
<text x="1693.4" y="2158.1" font-size="25.7" text-anchor="middle" transform="rotate(-45 1693.4 2158.1)" fill="#000">scWAT</text>
<text x="1760.6" y="2154.2" font-size="25.7" text-anchor="middle" transform="rotate(-45 1760.6 2154.2)" fill="#000">eWAT</text>
<text x="986.3" y="1931.0" font-size="24.5" text-anchor="middle" transform="rotate(-90 986.3 1931.0)" fill="#000">relative CCL2 expression</text>
<text x="1017.8" y="1931.5" font-size="24.5" text-anchor="middle" transform="rotate(-90 1017.8 1931.5)" fill="#000">[normalized to β-actin]</text>
<text x="347.6" y="2298.8" font-size="25.3" text-anchor="middle" fill="#000">Young</text>
<text x="604.0" y="2298.8" font-size="25.3" text-anchor="middle" fill="#000">Aged</text>
<line x1="240.0" y1="2320.6" x2="450.8" y2="2320.6" stroke="#111" stroke-width="3.2" stroke-linecap="butt"/>
<line x1="500.2" y1="2320.6" x2="710.1" y2="2320.6" stroke="#111" stroke-width="3.2" stroke-linecap="butt"/>
<text x="119.6" y="2389.3" font-size="25.3" text-anchor="middle" fill="#000">CCL11 (11 kDa)</text>
<text x="116.7" y="2463.4" font-size="25.3" text-anchor="middle" fill="#000">HSP90 (90 kDa)</text>
<text x="124.7" y="2561.0" font-size="25.3" text-anchor="middle" fill="#000">CCL2 (25 kDa)</text>
<text x="116.7" y="2633.6" font-size="25.3" text-anchor="middle" fill="#000">HSP90 (90 kDa)</text>
<clipPath id="cE1"><rect x="227.7" y="2348.2" width="498.0" height="60.3"/></clipPath>
<g clip-path="url(#cE1)">
<rect x="224.1" y="2344.6" width="505.2" height="67.5" fill="#eeeeee"/>
<rect x="224" y="2344" width="505" height="70" fill="url(#gE1)"/>
<rect x="238.0" y="2388.5" width="46.0" height="7.0" rx="3.5" fill="#b2b2b2" opacity="1.0" filter="url(#b25)"/>
<rect x="293.0" y="2388.5" width="46.0" height="7.0" rx="3.5" fill="#aaaaaa" opacity="1.0" filter="url(#b25)"/>
<rect x="345.0" y="2388.5" width="46.0" height="7.0" rx="3.5" fill="#a2a2a2" opacity="1.0" filter="url(#b25)"/>
<rect x="400.0" y="2388.5" width="46.0" height="7.0" rx="3.5" fill="#9e9e9e" opacity="1.0" filter="url(#b25)"/>
<rect x="499.0" y="2384.0" width="48.0" height="8.0" rx="4.0" fill="#5c5c5c" opacity="1.0" filter="url(#b25)"/>
<rect x="553.0" y="2384.0" width="48.0" height="8.0" rx="4.0" fill="#626262" opacity="1.0" filter="url(#b25)"/>
<rect x="606.0" y="2384.0" width="48.0" height="8.0" rx="4.0" fill="#5a5a5a" opacity="1.0" filter="url(#b25)"/>
<rect x="659.0" y="2384.0" width="48.0" height="8.0" rx="4.0" fill="#c4c4c4" opacity="1.0" filter="url(#b25)"/>
</g>
<rect x="225.9" y="2346.4" width="501.6" height="63.9" fill="none" stroke="#0a0a0a" stroke-width="3.6"/>
<clipPath id="cE2"><rect x="227.7" y="2422.0" width="498.0" height="60.1"/></clipPath>
<g clip-path="url(#cE2)">
<rect x="224.1" y="2418.4" width="505.2" height="67.3" fill="#e7e7e7"/>
<rect x="248.0" y="2451.2" width="40.0" height="4.0" rx="2.0" fill="#6a6a6a" opacity="1.0" filter="url(#b15)"/>
<rect x="303.0" y="2451.5" width="40.0" height="4.0" rx="2.0" fill="#777" opacity="1.0" filter="url(#b15)"/>
<rect x="355.0" y="2449.4" width="40.0" height="4.0" rx="2.0" fill="#9a9a9a" opacity="1.0" filter="url(#b15)"/>
<rect x="410.0" y="2447.3" width="40.0" height="4.0" rx="2.0" fill="#5a5a5a" opacity="1.0" filter="url(#b15)"/>
<rect x="505.0" y="2448.5" width="40.0" height="4.0" rx="2.0" fill="#6e6e6e" opacity="1.0" filter="url(#b15)"/>
<rect x="559.0" y="2449.0" width="40.0" height="4.0" rx="2.0" fill="#7a7a7a" opacity="1.0" filter="url(#b15)"/>
<rect x="612.0" y="2448.5" width="40.0" height="4.0" rx="2.0" fill="#888" opacity="1.0" filter="url(#b15)"/>
<rect x="665.0" y="2448.5" width="40.0" height="4.0" rx="2.0" fill="#222" opacity="1.0" filter="url(#b15)"/>
</g>
<rect x="225.9" y="2420.2" width="501.6" height="63.7" fill="none" stroke="#0a0a0a" stroke-width="3.6"/>
<clipPath id="cE3"><rect x="227.7" y="2521.1" width="498.0" height="60.3"/></clipPath>
<g clip-path="url(#cE3)">
<rect x="224.1" y="2517.5" width="505.2" height="67.5" fill="#ebebeb"/>
<ellipse cx="270.0" cy="2570.0" rx="30.0" ry="8.0" fill="#d6d6d6" opacity="0.8" filter="url(#b50)"/>
<ellipse cx="432.0" cy="2560.0" rx="14.0" ry="16.0" fill="#d4d4d4" opacity="0.8" filter="url(#b50)"/>
<rect x="500.0" y="2547.0" width="46.0" height="17.0" rx="4.0" fill="#686868" opacity="1.0" filter="url(#b36)"/>
<rect x="554.0" y="2549.0" width="46.0" height="15.0" rx="4.0" fill="#848484" opacity="1.0" filter="url(#b36)"/>
<rect x="607.0" y="2548.5" width="46.0" height="15.0" rx="4.0" fill="#6e6e6e" opacity="1.0" filter="url(#b36)"/>
<rect x="660.0" y="2545.3" width="46.0" height="14.0" rx="4.0" fill="#727272" opacity="1.0" filter="url(#b36)"/>
<rect x="609.0" y="2531.5" width="42.0" height="13.0" rx="4.0" fill="#9c9c9c" opacity="1.0" filter="url(#b38)"/>
</g>
<rect x="225.9" y="2519.3" width="501.6" height="63.9" fill="none" stroke="#0a0a0a" stroke-width="3.6"/>
<clipPath id="cE4"><rect x="227.7" y="2593.4" width="498.0" height="60.7"/></clipPath>
<g clip-path="url(#cE4)">
<rect x="224.1" y="2589.8" width="505.2" height="67.9" fill="#e8e8e8"/>
<rect x="247.0" y="2618.8" width="40.0" height="4.5" rx="2.2" fill="#3a3a3a" opacity="1.0" filter="url(#b16)"/>
<rect x="302.0" y="2620.2" width="40.0" height="4.5" rx="2.2" fill="#5a5a5a" opacity="1.0" filter="url(#b16)"/>
<rect x="354.0" y="2619.8" width="40.0" height="4.5" rx="2.2" fill="#6e6e6e" opacity="1.0" filter="url(#b16)"/>
<rect x="409.0" y="2618.2" width="40.0" height="4.5" rx="2.2" fill="#6a6a6a" opacity="1.0" filter="url(#b16)"/>
<rect x="502.0" y="2617.0" width="42.0" height="4.0" rx="2.0" fill="#9a9a9a" opacity="1.0" filter="url(#b16)"/>
<rect x="556.0" y="2618.0" width="42.0" height="4.0" rx="2.0" fill="#7e7e7e" opacity="1.0" filter="url(#b16)"/>
<rect x="609.0" y="2619.0" width="42.0" height="4.0" rx="2.0" fill="#707070" opacity="1.0" filter="url(#b16)"/>
<rect x="662.0" y="2617.0" width="42.0" height="4.0" rx="2.0" fill="#7a7a7a" opacity="1.0" filter="url(#b16)"/>
</g>
<rect x="225.9" y="2591.6" width="501.6" height="64.3" fill="none" stroke="#0a0a0a" stroke-width="3.6"/>
<line x1="922.8" y1="2364.3" x2="922.8" y2="2652.8" stroke="#111" stroke-width="3.2" stroke-linecap="butt"/>
<line x1="914.8" y1="2651.2" x2="1005.8" y2="2651.2" stroke="#111" stroke-width="3.2" stroke-linecap="butt"/>
<line x1="914.3" y1="2651.2" x2="922.8" y2="2651.2" stroke="#111" stroke-width="3.2" stroke-linecap="butt"/>
<text x="912.5" y="2658.4" font-size="20" text-anchor="end" fill="#000">0</text>
<line x1="914.3" y1="2556.1" x2="922.8" y2="2556.1" stroke="#111" stroke-width="3.2" stroke-linecap="butt"/>
<text x="912.5" y="2563.3" font-size="20" text-anchor="end" fill="#000">2</text>
<line x1="914.3" y1="2461.0" x2="922.8" y2="2461.0" stroke="#111" stroke-width="3.2" stroke-linecap="butt"/>
<text x="912.5" y="2468.2" font-size="20" text-anchor="end" fill="#000">4</text>
<line x1="914.3" y1="2365.9" x2="922.8" y2="2365.9" stroke="#111" stroke-width="3.2" stroke-linecap="butt"/>
<text x="912.5" y="2373.1" font-size="20" text-anchor="end" fill="#000">6</text>
<line x1="943.0" y1="2651.2" x2="943.0" y2="2660.2" stroke="#111" stroke-width="3.2" stroke-linecap="butt"/>
<line x1="984.7" y1="2651.2" x2="984.7" y2="2660.2" stroke="#111" stroke-width="3.2" stroke-linecap="butt"/>
<rect x="929.4" y="2542.2" width="27.2" height="108.9" fill="white" stroke="#111" stroke-width="3.3"/>
<rect x="971.8" y="2418.6" width="27.2" height="232.6" fill="#b8b8b8" stroke="#111" stroke-width="3.3"/>
<line x1="943.0" y1="2540.6" x2="943.0" y2="2515.1" stroke="#111" stroke-width="3.2" stroke-linecap="butt"/>
<line x1="933.5" y1="2515.1" x2="952.5" y2="2515.1" stroke="#111" stroke-width="3.2" stroke-linecap="butt"/>
<line x1="985.4" y1="2416.9" x2="985.4" y2="2403.5" stroke="#111" stroke-width="3.2" stroke-linecap="butt"/>
<line x1="975.9" y1="2403.5" x2="994.9" y2="2403.5" stroke="#111" stroke-width="3.2" stroke-linecap="butt"/>
<circle cx="943.0" cy="2492.8" r="3.4" fill="#111"/>
<circle cx="935.0" cy="2530.4" r="3.4" fill="#111"/>
<circle cx="950.4" cy="2531.7" r="3.4" fill="#111"/>
<circle cx="943.0" cy="2609.2" r="3.4" fill="#111"/>
<circle cx="991.5" cy="2390.1" r="3.4" fill="#111"/>
<circle cx="978.0" cy="2402.5" r="3.4" fill="#111"/>
<circle cx="985.0" cy="2423.3" r="3.4" fill="#111"/>
<circle cx="985.0" cy="2448.1" r="3.4" fill="#111"/>
<polyline points="942.4,2476.8 942.4,2366.8 985.2,2366.8 985.2,2406.7" fill="none" stroke="#111" stroke-width="3.2"/>
<text x="962.8" y="2369.2" font-size="42" text-anchor="middle" font-weight="bold" letter-spacing="0.7" fill="#000">**</text>
<text x="847.6" y="2498.9" font-size="24.8" text-anchor="middle" transform="rotate(-90 847.6 2498.9)" fill="#000">CCL11 per total eWAT</text>
<text x="877.9" y="2498.4" font-size="24.6" text-anchor="middle" transform="rotate(-90 877.9 2498.4)" fill="#000">[arbitrary units x 10<tspan font-size="15" dy="-8">2</tspan><tspan dy="8">]</tspan></text>
<text x="926.7" y="2698.2" font-size="25.7" text-anchor="middle" transform="rotate(-45 926.7 2698.2)" fill="#000">Young</text>
<text x="972.4" y="2693.2" font-size="25.7" text-anchor="middle" transform="rotate(-45 972.4 2693.2)" fill="#000">Aged</text>
<line x1="1146.6" y1="2368.7" x2="1146.6" y2="2653.6" stroke="#111" stroke-width="3.2" stroke-linecap="butt"/>
<line x1="1138.6" y1="2652.0" x2="1229.2" y2="2652.0" stroke="#111" stroke-width="3.2" stroke-linecap="butt"/>
<line x1="1138.1" y1="2652.0" x2="1146.6" y2="2652.0" stroke="#111" stroke-width="3.2" stroke-linecap="butt"/>
<text x="1136.5" y="2659.2" font-size="20" text-anchor="end" fill="#000">0</text>
<line x1="1138.1" y1="2595.7" x2="1146.6" y2="2595.7" stroke="#111" stroke-width="3.2" stroke-linecap="butt"/>
<text x="1136.5" y="2602.8" font-size="20" text-anchor="end" fill="#000">1</text>
<line x1="1138.1" y1="2539.3" x2="1146.6" y2="2539.3" stroke="#111" stroke-width="3.2" stroke-linecap="butt"/>
<text x="1136.5" y="2546.5" font-size="20" text-anchor="end" fill="#000">2</text>
<line x1="1138.1" y1="2482.9" x2="1146.6" y2="2482.9" stroke="#111" stroke-width="3.2" stroke-linecap="butt"/>
<text x="1136.5" y="2490.1" font-size="20" text-anchor="end" fill="#000">3</text>
<line x1="1138.1" y1="2426.6" x2="1146.6" y2="2426.6" stroke="#111" stroke-width="3.2" stroke-linecap="butt"/>
<text x="1136.5" y="2433.8" font-size="20" text-anchor="end" fill="#000">4</text>
<line x1="1138.1" y1="2370.2" x2="1146.6" y2="2370.2" stroke="#111" stroke-width="3.2" stroke-linecap="butt"/>
<text x="1136.5" y="2377.4" font-size="20" text-anchor="end" fill="#000">5</text>
<line x1="1166.6" y1="2652.0" x2="1166.6" y2="2661.0" stroke="#111" stroke-width="3.2" stroke-linecap="butt"/>
<line x1="1208.8" y1="2652.0" x2="1208.8" y2="2661.0" stroke="#111" stroke-width="3.2" stroke-linecap="butt"/>
<rect x="1153.0" y="2651.2" width="27.2" height="0.9" fill="white" stroke="#111" stroke-width="3.3"/>
<rect x="1195.2" y="2472.8" width="27.2" height="179.3" fill="#b8b8b8" stroke="#111" stroke-width="3.3"/>
<line x1="1208.8" y1="2471.1" x2="1208.8" y2="2452.3" stroke="#111" stroke-width="3.2" stroke-linecap="butt"/>
<line x1="1199.3" y1="2452.3" x2="1218.3" y2="2452.3" stroke="#111" stroke-width="3.2" stroke-linecap="butt"/>
<circle cx="1156.0" cy="2648.5" r="3.4" fill="#111"/>
<circle cx="1163.0" cy="2647.0" r="3.4" fill="#111"/>
<circle cx="1170.0" cy="2648.0" r="3.4" fill="#111"/>
<circle cx="1177.0" cy="2646.5" r="3.4" fill="#111"/>
<circle cx="1208.7" cy="2417.8" r="3.4" fill="#111"/>
<circle cx="1208.7" cy="2475.2" r="3.4" fill="#111"/>
<circle cx="1215.7" cy="2489.6" r="3.4" fill="#111"/>
<circle cx="1201.4" cy="2498.5" r="3.4" fill="#111"/>
<polyline points="1166.3,2628.3 1166.3,2371 1208.4,2371 1208.4,2398.7" fill="none" stroke="#111" stroke-width="3.2"/>
<text x="1185.0" y="2374.0" font-size="42" text-anchor="middle" font-weight="bold" letter-spacing="0.7" fill="#000">****</text>
<text x="1069.4" y="2520.8" font-size="24.5" text-anchor="middle" transform="rotate(-90 1069.4 2520.8)" fill="#000">CCL2 per total eWAT</text>
<text x="1100.4" y="2520.6" font-size="24.5" text-anchor="middle" transform="rotate(-90 1100.4 2520.6)" fill="#000">[arbitrary units 10<tspan font-size="15" dy="-8">3</tspan><tspan dy="8">]</tspan></text>
<text x="1150.6" y="2697.0" font-size="25.7" text-anchor="middle" transform="rotate(-45 1150.6 2697.0)" fill="#000">Young</text>
<text x="1196.6" y="2693.9" font-size="25.7" text-anchor="middle" transform="rotate(-45 1196.6 2693.9)" fill="#000">Aged</text>
</svg>
</body></html>
